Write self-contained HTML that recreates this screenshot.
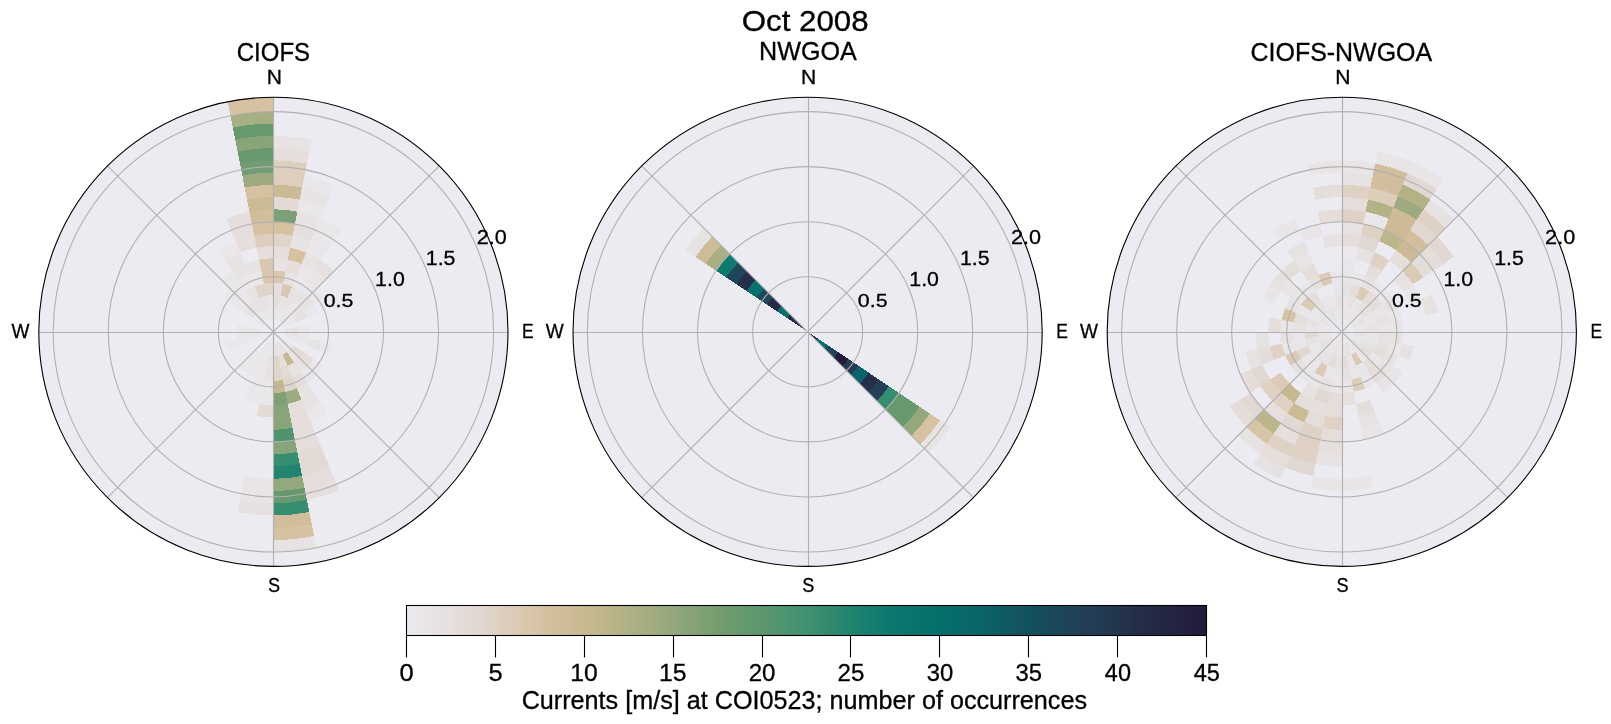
<!DOCTYPE html><html><head><meta charset="utf-8"><style>html,body{margin:0;padding:0;background:#fff;}svg{display:block;}text{font-family:"Liberation Sans",sans-serif;fill:#000;stroke:#000;stroke-width:0.3px;}svg{will-change:transform;}</style></head><body>
<svg width="1611" height="724" viewBox="0 0 1611 724">
<rect width="1611" height="724" fill="#fff"/>
<defs>
<clipPath id="c0"><circle cx="273.4" cy="331.8" r="234.6"/></clipPath>
<clipPath id="c1"><circle cx="807.6" cy="331.8" r="234.6"/></clipPath>
<clipPath id="c2"><circle cx="1341.8" cy="331.8" r="234.6"/></clipPath>
<linearGradient id="cb" x1="0" x2="1" y1="0" y2="0"><stop offset="0.000" stop-color="#ecebf1"/><stop offset="0.090" stop-color="#e2d8d2"/><stop offset="0.174" stop-color="#d6c0a0"/><stop offset="0.235" stop-color="#c4b88c"/><stop offset="0.310" stop-color="#a0ac80"/><stop offset="0.400" stop-color="#6e9b6e"/><stop offset="0.500" stop-color="#419170"/><stop offset="0.562" stop-color="#1e826e"/><stop offset="0.609" stop-color="#0a786e"/><stop offset="0.665" stop-color="#056e69"/><stop offset="0.717" stop-color="#0a6469"/><stop offset="0.779" stop-color="#14505f"/><stop offset="0.857" stop-color="#233c55"/><stop offset="0.919" stop-color="#232d46"/><stop offset="1.000" stop-color="#211b39"/></linearGradient>
</defs>
<circle cx="273.4" cy="331.8" r="234.6" fill="#ecebf1"/>
<g clip-path="url(#c0)" shape-rendering="crispEdges">
<path d="M268.62,307.77A24.50,24.50 0 0 1 273.40,307.30L273.40,319.55A12.25,12.25 0 0 0 271.01,319.79Z" fill="#eae7ea"/>
<path d="M266.23,295.76A36.75,36.75 0 0 1 273.40,295.05L273.40,307.30A24.50,24.50 0 0 0 268.62,307.77Z" fill="#eae7ea"/>
<path d="M263.84,283.74A49.00,49.00 0 0 1 273.40,282.80L273.40,295.05A36.75,36.75 0 0 0 266.23,295.76Z" fill="#e0d5cb"/>
<path d="M261.45,271.73A61.25,61.25 0 0 1 273.40,270.55L273.40,282.80A49.00,49.00 0 0 0 263.84,283.74Z" fill="#dac7af"/>
<path d="M259.06,259.71A73.50,73.50 0 0 1 273.40,258.30L273.40,270.55A61.25,61.25 0 0 0 261.45,271.73Z" fill="#dac7af"/>
<path d="M256.67,247.70A85.75,85.75 0 0 1 273.40,246.05L273.40,258.30A73.50,73.50 0 0 0 259.06,259.71Z" fill="#e5dedc"/>
<path d="M254.28,235.68A98.00,98.00 0 0 1 273.40,233.80L273.40,246.05A85.75,85.75 0 0 0 256.67,247.70Z" fill="#ddcebd"/>
<path d="M251.89,223.67A110.25,110.25 0 0 1 273.40,221.55L273.40,233.80A98.00,98.00 0 0 0 254.28,235.68Z" fill="#d6c1a1"/>
<path d="M249.50,211.65A122.50,122.50 0 0 1 273.40,209.30L273.40,221.55A110.25,110.25 0 0 0 251.89,223.67Z" fill="#d1be9a"/>
<path d="M247.11,199.64A134.75,134.75 0 0 1 273.40,197.05L273.40,209.30A122.50,122.50 0 0 0 249.50,211.65Z" fill="#cbbb94"/>
<path d="M244.72,187.62A147.00,147.00 0 0 1 273.40,184.80L273.40,197.05A134.75,134.75 0 0 0 247.11,199.64Z" fill="#d6c1a1"/>
<path d="M242.33,175.61A159.25,159.25 0 0 1 273.40,172.55L273.40,184.80A147.00,147.00 0 0 0 244.72,187.62Z" fill="#9eab80"/>
<path d="M239.94,163.60A171.50,171.50 0 0 1 273.40,160.30L273.40,172.55A159.25,159.25 0 0 0 242.33,175.61Z" fill="#729d72"/>
<path d="M237.55,151.58A183.75,183.75 0 0 1 273.40,148.05L273.40,160.30A171.50,171.50 0 0 0 239.94,163.60Z" fill="#67996f"/>
<path d="M235.16,139.57A196.00,196.00 0 0 1 273.40,135.80L273.40,148.05A183.75,183.75 0 0 0 237.55,151.58Z" fill="#88a479"/>
<path d="M232.77,127.55A208.25,208.25 0 0 1 273.40,123.55L273.40,135.80A196.00,196.00 0 0 0 235.16,139.57Z" fill="#67996f"/>
<path d="M230.38,115.54A220.50,220.50 0 0 1 273.40,111.30L273.40,123.55A208.25,208.25 0 0 0 232.77,127.55Z" fill="#a8af83"/>
<path d="M227.24,99.75A236.60,236.60 0 0 1 273.40,95.20L273.40,111.30A220.50,220.50 0 0 0 230.38,115.54Z" fill="#d6c1a1"/>
<path d="M227.24,99.75A236.60,236.60 0 0 1 273.40,95.20L273.40,99.05A232.75,232.75 0 0 0 227.99,103.52Z" fill="#d6c1a1"/>
<path d="M273.40,307.30A24.50,24.50 0 0 1 278.18,307.77L275.79,319.79A12.25,12.25 0 0 0 273.40,319.55Z" fill="#eae7ea"/>
<path d="M273.40,295.05A36.75,36.75 0 0 1 280.57,295.76L278.18,307.77A24.50,24.50 0 0 0 273.40,307.30Z" fill="#e5dedc"/>
<path d="M273.40,282.80A49.00,49.00 0 0 1 282.96,283.74L280.57,295.76A36.75,36.75 0 0 0 273.40,295.05Z" fill="#e5dedc"/>
<path d="M273.40,270.55A61.25,61.25 0 0 1 285.35,271.73L282.96,283.74A49.00,49.00 0 0 0 273.40,282.80Z" fill="#dac7af"/>
<path d="M273.40,258.30A73.50,73.50 0 0 1 287.74,259.71L285.35,271.73A61.25,61.25 0 0 0 273.40,270.55Z" fill="#e8e3e3"/>
<path d="M273.40,246.05A85.75,85.75 0 0 1 290.13,247.70L287.74,259.71A73.50,73.50 0 0 0 273.40,258.30Z" fill="#e5dedc"/>
<path d="M273.40,233.80A98.00,98.00 0 0 1 292.52,235.68L290.13,247.70A85.75,85.75 0 0 0 273.40,246.05Z" fill="#e0d5cb"/>
<path d="M273.40,221.55A110.25,110.25 0 0 1 294.91,223.67L292.52,235.68A98.00,98.00 0 0 0 273.40,233.80Z" fill="#d6c1a1"/>
<path d="M273.40,209.30A122.50,122.50 0 0 1 297.30,211.65L294.91,223.67A110.25,110.25 0 0 0 273.40,221.55Z" fill="#7da076"/>
<path d="M273.40,197.05A134.75,134.75 0 0 1 299.69,199.64L297.30,211.65A122.50,122.50 0 0 0 273.40,209.30Z" fill="#e3dad5"/>
<path d="M273.40,184.80A147.00,147.00 0 0 1 302.08,187.62L299.69,199.64A134.75,134.75 0 0 0 273.40,197.05Z" fill="#cbbb94"/>
<path d="M273.40,172.55A159.25,159.25 0 0 1 304.47,175.61L302.08,187.62A147.00,147.00 0 0 0 273.40,184.80Z" fill="#ddcebd"/>
<path d="M273.40,160.30A171.50,171.50 0 0 1 306.86,163.60L304.47,175.61A159.25,159.25 0 0 0 273.40,172.55Z" fill="#ddcebd"/>
<path d="M273.40,148.05A183.75,183.75 0 0 1 309.25,151.58L306.86,163.60A171.50,171.50 0 0 0 273.40,160.30Z" fill="#e5dedc"/>
<path d="M273.40,135.80A196.00,196.00 0 0 1 311.64,139.57L309.25,151.58A183.75,183.75 0 0 0 273.40,148.05Z" fill="#e8e3e3"/>
<path d="M278.18,307.77A24.50,24.50 0 0 1 282.78,309.16L278.09,320.48A12.25,12.25 0 0 0 275.79,319.79Z" fill="#eae7ea"/>
<path d="M280.57,295.76A36.75,36.75 0 0 1 287.46,297.85L282.78,309.16A24.50,24.50 0 0 0 278.18,307.77Z" fill="#e8e3e3"/>
<path d="M282.96,283.74A49.00,49.00 0 0 1 292.15,286.53L287.46,297.85A36.75,36.75 0 0 0 280.57,295.76Z" fill="#dac7af"/>
<path d="M285.35,271.73A61.25,61.25 0 0 1 296.84,275.21L292.15,286.53A49.00,49.00 0 0 0 282.96,283.74Z" fill="#e8e3e3"/>
<path d="M287.74,259.71A73.50,73.50 0 0 1 301.53,263.89L296.84,275.21A61.25,61.25 0 0 0 285.35,271.73Z" fill="#e5dedc"/>
<path d="M290.13,247.70A85.75,85.75 0 0 1 306.22,252.58L301.53,263.89A73.50,73.50 0 0 0 287.74,259.71Z" fill="#d6c1a1"/>
<path d="M292.52,235.68A98.00,98.00 0 0 1 310.90,241.26L306.22,252.58A85.75,85.75 0 0 0 290.13,247.70Z" fill="#e8e3e3"/>
<path d="M294.91,223.67A110.25,110.25 0 0 1 315.59,229.94L310.90,241.26A98.00,98.00 0 0 0 292.52,235.68Z" fill="#e5dedc"/>
<path d="M297.30,211.65A122.50,122.50 0 0 1 320.28,218.62L315.59,229.94A110.25,110.25 0 0 0 294.91,223.67Z" fill="#e8e3e3"/>
<path d="M299.69,199.64A134.75,134.75 0 0 1 324.97,207.31L320.28,218.62A122.50,122.50 0 0 0 297.30,211.65Z" fill="#eae7ea"/>
<path d="M302.08,187.62A147.00,147.00 0 0 1 329.65,195.99L324.97,207.31A134.75,134.75 0 0 0 299.69,199.64Z" fill="#e8e3e3"/>
<path d="M304.47,175.61A159.25,159.25 0 0 1 334.34,184.67L329.65,195.99A147.00,147.00 0 0 0 302.08,187.62Z" fill="#eae7ea"/>
<path d="M282.78,309.16A24.50,24.50 0 0 1 287.01,311.43L280.21,321.61A12.25,12.25 0 0 0 278.09,320.48Z" fill="#eae7ea"/>
<path d="M287.46,297.85A36.75,36.75 0 0 1 293.82,301.24L287.01,311.43A24.50,24.50 0 0 0 282.78,309.16Z" fill="#e8e3e3"/>
<path d="M292.15,286.53A49.00,49.00 0 0 1 300.62,291.06L293.82,301.24A36.75,36.75 0 0 0 287.46,297.85Z" fill="#e8e3e3"/>
<path d="M296.84,275.21A61.25,61.25 0 0 1 307.43,280.87L300.62,291.06A49.00,49.00 0 0 0 292.15,286.53Z" fill="#eae7ea"/>
<path d="M301.53,263.89A73.50,73.50 0 0 1 314.23,270.69L307.43,280.87A61.25,61.25 0 0 0 296.84,275.21Z" fill="#eae7ea"/>
<path d="M306.22,252.58A85.75,85.75 0 0 1 321.04,260.50L314.23,270.69A73.50,73.50 0 0 0 301.53,263.89Z" fill="#e8e3e3"/>
<path d="M310.90,241.26A98.00,98.00 0 0 1 327.85,250.32L321.04,260.50A85.75,85.75 0 0 0 306.22,252.58Z" fill="#eae7ea"/>
<path d="M315.59,229.94A110.25,110.25 0 0 1 334.65,240.13L327.85,250.32A98.00,98.00 0 0 0 310.90,241.26Z" fill="#eae7ea"/>
<path d="M320.28,218.62A122.50,122.50 0 0 1 341.46,229.94L334.65,240.13A110.25,110.25 0 0 0 315.59,229.94Z" fill="#eae7ea"/>
<path d="M264.02,309.16A24.50,24.50 0 0 1 268.62,307.77L271.01,319.79A12.25,12.25 0 0 0 268.71,320.48Z" fill="#eae7ea"/>
<path d="M259.34,297.85A36.75,36.75 0 0 1 266.23,295.76L268.62,307.77A24.50,24.50 0 0 0 264.02,309.16Z" fill="#e8e3e3"/>
<path d="M254.65,286.53A49.00,49.00 0 0 1 263.84,283.74L266.23,295.76A36.75,36.75 0 0 0 259.34,297.85Z" fill="#e0d5cb"/>
<path d="M249.96,275.21A61.25,61.25 0 0 1 261.45,271.73L263.84,283.74A49.00,49.00 0 0 0 254.65,286.53Z" fill="#eae7ea"/>
<path d="M245.27,263.89A73.50,73.50 0 0 1 259.06,259.71L261.45,271.73A61.25,61.25 0 0 0 249.96,275.21Z" fill="#e8e3e3"/>
<path d="M235.90,241.26A98.00,98.00 0 0 1 254.28,235.68L256.67,247.70A85.75,85.75 0 0 0 240.58,252.58Z" fill="#e5dedc"/>
<path d="M231.21,229.94A110.25,110.25 0 0 1 251.89,223.67L254.28,235.68A98.00,98.00 0 0 0 235.90,241.26Z" fill="#e5dedc"/>
<path d="M226.52,218.62A122.50,122.50 0 0 1 249.50,211.65L251.89,223.67A110.25,110.25 0 0 0 231.21,229.94Z" fill="#e5dedc"/>
<path d="M259.79,311.43A24.50,24.50 0 0 1 264.02,309.16L268.71,320.48A12.25,12.25 0 0 0 266.59,321.61Z" fill="#eae7ea"/>
<path d="M252.98,301.24A36.75,36.75 0 0 1 259.34,297.85L264.02,309.16A24.50,24.50 0 0 0 259.79,311.43Z" fill="#e8e3e3"/>
<path d="M246.18,291.06A49.00,49.00 0 0 1 254.65,286.53L259.34,297.85A36.75,36.75 0 0 0 252.98,301.24Z" fill="#e8e3e3"/>
<path d="M239.37,280.87A61.25,61.25 0 0 1 249.96,275.21L254.65,286.53A49.00,49.00 0 0 0 246.18,291.06Z" fill="#eae7ea"/>
<path d="M232.57,270.69A73.50,73.50 0 0 1 245.27,263.89L249.96,275.21A61.25,61.25 0 0 0 239.37,280.87Z" fill="#e8e3e3"/>
<path d="M225.76,260.50A85.75,85.75 0 0 1 240.58,252.58L245.27,263.89A73.50,73.50 0 0 0 232.57,270.69Z" fill="#e8e3e3"/>
<path d="M218.95,250.32A98.00,98.00 0 0 1 235.90,241.26L240.58,252.58A85.75,85.75 0 0 0 225.76,260.50Z" fill="#eae7ea"/>
<path d="M256.08,314.48A24.50,24.50 0 0 1 259.79,311.43L266.59,321.61A12.25,12.25 0 0 0 264.74,323.14Z" fill="#eae7ea"/>
<path d="M247.41,305.81A36.75,36.75 0 0 1 252.98,301.24L259.79,311.43A24.50,24.50 0 0 0 256.08,314.48Z" fill="#e8e3e3"/>
<path d="M238.75,297.15A49.00,49.00 0 0 1 246.18,291.06L252.98,301.24A36.75,36.75 0 0 0 247.41,305.81Z" fill="#eae7ea"/>
<path d="M230.09,288.49A61.25,61.25 0 0 1 239.37,280.87L246.18,291.06A49.00,49.00 0 0 0 238.75,297.15Z" fill="#eae7ea"/>
<path d="M221.43,279.83A73.50,73.50 0 0 1 232.57,270.69L239.37,280.87A61.25,61.25 0 0 0 230.09,288.49Z" fill="#eae7ea"/>
<path d="M253.03,318.19A24.50,24.50 0 0 1 256.08,314.48L264.74,323.14A12.25,12.25 0 0 0 263.21,324.99Z" fill="#eae7ea"/>
<path d="M242.84,311.38A36.75,36.75 0 0 1 247.41,305.81L256.08,314.48A24.50,24.50 0 0 0 253.03,318.19Z" fill="#e8e3e3"/>
<path d="M232.66,304.58A49.00,49.00 0 0 1 238.75,297.15L247.41,305.81A36.75,36.75 0 0 0 242.84,311.38Z" fill="#eae7ea"/>
<path d="M222.47,297.77A61.25,61.25 0 0 1 230.09,288.49L238.75,297.15A49.00,49.00 0 0 0 232.66,304.58Z" fill="#eae7ea"/>
<path d="M273.40,331.80L275.79,343.81A12.25,12.25 0 0 1 273.40,344.05Z" fill="#eae7ea"/>
<path d="M278.18,355.83A24.50,24.50 0 0 1 273.40,356.30L273.40,344.05A12.25,12.25 0 0 0 275.79,343.81Z" fill="#e8e3e3"/>
<path d="M280.57,367.84A36.75,36.75 0 0 1 273.40,368.55L273.40,356.30A24.50,24.50 0 0 0 278.18,355.83Z" fill="#e0d5cb"/>
<path d="M282.96,379.86A49.00,49.00 0 0 1 273.40,380.80L273.40,368.55A36.75,36.75 0 0 0 280.57,367.84Z" fill="#e0d5cb"/>
<path d="M285.35,391.87A61.25,61.25 0 0 1 273.40,393.05L273.40,380.80A49.00,49.00 0 0 0 282.96,379.86Z" fill="#c5b98e"/>
<path d="M287.74,403.89A73.50,73.50 0 0 1 273.40,405.30L273.40,393.05A61.25,61.25 0 0 0 285.35,391.87Z" fill="#7da076"/>
<path d="M290.13,415.90A85.75,85.75 0 0 1 273.40,417.55L273.40,405.30A73.50,73.50 0 0 0 287.74,403.89Z" fill="#88a479"/>
<path d="M292.52,427.92A98.00,98.00 0 0 1 273.40,429.80L273.40,417.55A85.75,85.75 0 0 0 290.13,415.90Z" fill="#88a479"/>
<path d="M294.91,439.93A110.25,110.25 0 0 1 273.40,442.05L273.40,429.80A98.00,98.00 0 0 0 292.52,427.92Z" fill="#4f936f"/>
<path d="M297.30,451.95A122.50,122.50 0 0 1 273.40,454.30L273.40,442.05A110.25,110.25 0 0 0 294.91,439.93Z" fill="#88a479"/>
<path d="M299.69,463.96A134.75,134.75 0 0 1 273.40,466.55L273.40,454.30A122.50,122.50 0 0 0 297.30,451.95Z" fill="#368e70"/>
<path d="M302.08,475.98A147.00,147.00 0 0 1 273.40,478.80L273.40,466.55A134.75,134.75 0 0 0 299.69,463.96Z" fill="#218570"/>
<path d="M304.47,487.99A159.25,159.25 0 0 1 273.40,491.05L273.40,478.80A147.00,147.00 0 0 0 302.08,475.98Z" fill="#93a87c"/>
<path d="M306.86,500.00A171.50,171.50 0 0 1 273.40,503.30L273.40,491.05A159.25,159.25 0 0 0 304.47,487.99Z" fill="#67996f"/>
<path d="M309.25,512.02A183.75,183.75 0 0 1 273.40,515.55L273.40,503.30A171.50,171.50 0 0 0 306.86,500.00Z" fill="#368e70"/>
<path d="M311.64,524.03A196.00,196.00 0 0 1 273.40,527.80L273.40,515.55A183.75,183.75 0 0 0 309.25,512.02Z" fill="#d1be9a"/>
<path d="M314.03,536.05A208.25,208.25 0 0 1 273.40,540.05L273.40,527.80A196.00,196.00 0 0 0 311.64,524.03Z" fill="#d6c1a1"/>
<path d="M316.42,548.06A220.50,220.50 0 0 1 273.40,552.30L273.40,540.05A208.25,208.25 0 0 0 314.03,536.05Z" fill="#e8e3e3"/>
<path d="M273.40,331.80L273.40,344.05A12.25,12.25 0 0 1 271.01,343.81Z" fill="#eae7ea"/>
<path d="M273.40,356.30A24.50,24.50 0 0 1 268.62,355.83L271.01,343.81A12.25,12.25 0 0 0 273.40,344.05Z" fill="#eae7ea"/>
<path d="M273.40,368.55A36.75,36.75 0 0 1 266.23,367.84L268.62,355.83A24.50,24.50 0 0 0 273.40,356.30Z" fill="#e8e3e3"/>
<path d="M273.40,380.80A49.00,49.00 0 0 1 263.84,379.86L266.23,367.84A36.75,36.75 0 0 0 273.40,368.55Z" fill="#e8e3e3"/>
<path d="M273.40,393.05A61.25,61.25 0 0 1 261.45,391.87L263.84,379.86A49.00,49.00 0 0 0 273.40,380.80Z" fill="#eae7ea"/>
<path d="M273.40,405.30A73.50,73.50 0 0 1 259.06,403.89L261.45,391.87A61.25,61.25 0 0 0 273.40,393.05Z" fill="#eae7ea"/>
<path d="M273.40,417.55A85.75,85.75 0 0 1 256.67,415.90L259.06,403.89A73.50,73.50 0 0 0 273.40,405.30Z" fill="#e3dad5"/>
<path d="M273.40,491.05A159.25,159.25 0 0 1 242.33,487.99L244.72,475.98A147.00,147.00 0 0 0 273.40,478.80Z" fill="#e9e5e7"/>
<path d="M273.40,503.30A171.50,171.50 0 0 1 239.94,500.00L242.33,487.99A159.25,159.25 0 0 0 273.40,491.05Z" fill="#e9e5e7"/>
<path d="M273.40,515.55A183.75,183.75 0 0 1 237.55,512.02L239.94,500.00A171.50,171.50 0 0 0 273.40,503.30Z" fill="#e6e0e0"/>
<path d="M268.62,355.83A24.50,24.50 0 0 1 264.02,354.44L268.71,343.12A12.25,12.25 0 0 0 271.01,343.81Z" fill="#eae7ea"/>
<path d="M266.23,367.84A36.75,36.75 0 0 1 259.34,365.75L264.02,354.44A24.50,24.50 0 0 0 268.62,355.83Z" fill="#eae7ea"/>
<path d="M263.84,379.86A49.00,49.00 0 0 1 254.65,377.07L259.34,365.75A36.75,36.75 0 0 0 266.23,367.84Z" fill="#eae7ea"/>
<path d="M261.45,391.87A61.25,61.25 0 0 1 249.96,388.39L254.65,377.07A49.00,49.00 0 0 0 263.84,379.86Z" fill="#eae7ea"/>
<path d="M259.06,403.89A73.50,73.50 0 0 1 245.27,399.71L249.96,388.39A61.25,61.25 0 0 0 261.45,391.87Z" fill="#eae7ea"/>
<path d="M282.78,354.44A24.50,24.50 0 0 1 278.18,355.83L275.79,343.81A12.25,12.25 0 0 0 278.09,343.12Z" fill="#e8e3e3"/>
<path d="M287.46,365.75A36.75,36.75 0 0 1 280.57,367.84L278.18,355.83A24.50,24.50 0 0 0 282.78,354.44Z" fill="#e5dedc"/>
<path d="M292.15,377.07A49.00,49.00 0 0 1 282.96,379.86L280.57,367.84A36.75,36.75 0 0 0 287.46,365.75Z" fill="#e3dad5"/>
<path d="M296.84,388.39A61.25,61.25 0 0 1 285.35,391.87L282.96,379.86A49.00,49.00 0 0 0 292.15,377.07Z" fill="#e0d5cb"/>
<path d="M301.53,399.71A73.50,73.50 0 0 1 287.74,403.89L285.35,391.87A61.25,61.25 0 0 0 296.84,388.39Z" fill="#9eab80"/>
<path d="M306.22,411.02A85.75,85.75 0 0 1 290.13,415.90L287.74,403.89A73.50,73.50 0 0 0 301.53,399.71Z" fill="#e5dedc"/>
<path d="M310.90,422.34A98.00,98.00 0 0 1 292.52,427.92L290.13,415.90A85.75,85.75 0 0 0 306.22,411.02Z" fill="#e5dedc"/>
<path d="M315.59,433.66A110.25,110.25 0 0 1 294.91,439.93L292.52,427.92A98.00,98.00 0 0 0 310.90,422.34Z" fill="#e5dedc"/>
<path d="M320.28,444.98A122.50,122.50 0 0 1 297.30,451.95L294.91,439.93A110.25,110.25 0 0 0 315.59,433.66Z" fill="#e5dedc"/>
<path d="M324.97,456.29A134.75,134.75 0 0 1 299.69,463.96L297.30,451.95A122.50,122.50 0 0 0 320.28,444.98Z" fill="#e3dad5"/>
<path d="M329.65,467.61A147.00,147.00 0 0 1 302.08,475.98L299.69,463.96A134.75,134.75 0 0 0 324.97,456.29Z" fill="#e3dad5"/>
<path d="M334.34,478.93A159.25,159.25 0 0 1 304.47,487.99L302.08,475.98A147.00,147.00 0 0 0 329.65,467.61Z" fill="#e5dedc"/>
<path d="M339.03,490.25A171.50,171.50 0 0 1 306.86,500.00L304.47,487.99A159.25,159.25 0 0 0 334.34,478.93Z" fill="#e5dedc"/>
<path d="M287.01,352.17A24.50,24.50 0 0 1 282.78,354.44L278.09,343.12A12.25,12.25 0 0 0 280.21,341.99Z" fill="#e8e3e3"/>
<path d="M293.82,362.36A36.75,36.75 0 0 1 287.46,365.75L282.78,354.44A24.50,24.50 0 0 0 287.01,352.17Z" fill="#c5b98e"/>
<path d="M300.62,372.54A49.00,49.00 0 0 1 292.15,377.07L287.46,365.75A36.75,36.75 0 0 0 293.82,362.36Z" fill="#e8e3e3"/>
<path d="M307.43,382.73A61.25,61.25 0 0 1 296.84,388.39L292.15,377.07A49.00,49.00 0 0 0 300.62,372.54Z" fill="#e5dedc"/>
<path d="M314.23,392.91A73.50,73.50 0 0 1 301.53,399.71L296.84,388.39A61.25,61.25 0 0 0 307.43,382.73Z" fill="#e8e3e3"/>
<path d="M321.04,403.10A85.75,85.75 0 0 1 306.22,411.02L301.53,399.71A73.50,73.50 0 0 0 314.23,392.91Z" fill="#e8e3e3"/>
<path d="M327.85,413.28A98.00,98.00 0 0 1 310.90,422.34L306.22,411.02A85.75,85.75 0 0 0 321.04,403.10Z" fill="#eae7ea"/>
<path d="M293.77,345.41A24.50,24.50 0 0 1 290.72,349.12L282.06,340.46A12.25,12.25 0 0 0 283.59,338.61Z" fill="#eae7ea"/>
<path d="M303.96,352.22A36.75,36.75 0 0 1 299.39,357.79L290.72,349.12A24.50,24.50 0 0 0 293.77,345.41Z" fill="#e3dad5"/>
<path d="M314.14,359.02A49.00,49.00 0 0 1 308.05,366.45L299.39,357.79A36.75,36.75 0 0 0 303.96,352.22Z" fill="#e5dedc"/>
<path d="M324.33,365.83A61.25,61.25 0 0 1 316.71,375.11L308.05,366.45A49.00,49.00 0 0 0 314.14,359.02Z" fill="#eae7ea"/>
<path d="M290.72,349.12A24.50,24.50 0 0 1 287.01,352.17L280.21,341.99A12.25,12.25 0 0 0 282.06,340.46Z" fill="#eae7ea"/>
<path d="M299.39,357.79A36.75,36.75 0 0 1 293.82,362.36L287.01,352.17A24.50,24.50 0 0 0 290.72,349.12Z" fill="#e8e3e3"/>
<path d="M308.05,366.45A49.00,49.00 0 0 1 300.62,372.54L293.82,362.36A36.75,36.75 0 0 0 299.39,357.79Z" fill="#e8e3e3"/>
<path d="M316.71,375.11A61.25,61.25 0 0 1 307.43,382.73L300.62,372.54A49.00,49.00 0 0 0 308.05,366.45Z" fill="#eae7ea"/>
<path d="M297.43,336.58A24.50,24.50 0 0 1 296.04,341.18L284.72,336.49A12.25,12.25 0 0 0 285.41,334.19Z" fill="#eae7ea"/>
<path d="M309.44,338.97A36.75,36.75 0 0 1 307.35,345.86L296.04,341.18A24.50,24.50 0 0 0 297.43,336.58Z" fill="#eae7ea"/>
<path d="M321.46,341.36A49.00,49.00 0 0 1 318.67,350.55L307.35,345.86A36.75,36.75 0 0 0 309.44,338.97Z" fill="#e8e3e3"/>
<path d="M333.47,343.75A61.25,61.25 0 0 1 329.99,355.24L318.67,350.55A49.00,49.00 0 0 0 321.46,341.36Z" fill="#eae7ea"/>
<path d="M297.90,331.80A24.50,24.50 0 0 1 297.43,336.58L285.41,334.19A12.25,12.25 0 0 0 285.65,331.80Z" fill="#e8e3e3"/>
<path d="M310.15,331.80A36.75,36.75 0 0 1 309.44,338.97L297.43,336.58A24.50,24.50 0 0 0 297.90,331.80Z" fill="#eae7ea"/>
<path d="M297.43,327.02A24.50,24.50 0 0 1 297.90,331.80L285.65,331.80A12.25,12.25 0 0 0 285.41,329.41Z" fill="#e6e0e0"/>
<path d="M309.44,324.63A36.75,36.75 0 0 1 310.15,331.80L297.90,331.80A24.50,24.50 0 0 0 297.43,327.02Z" fill="#eae7ea"/>
<path d="M290.72,314.48A24.50,24.50 0 0 1 293.77,318.19L283.59,324.99A12.25,12.25 0 0 0 282.06,323.14Z" fill="#eae7ea"/>
<path d="M299.39,305.81A36.75,36.75 0 0 1 303.96,311.38L293.77,318.19A24.50,24.50 0 0 0 290.72,314.48Z" fill="#e8e3e3"/>
<path d="M308.05,297.15A49.00,49.00 0 0 1 314.14,304.58L303.96,311.38A36.75,36.75 0 0 0 299.39,305.81Z" fill="#e8e3e3"/>
<path d="M316.71,288.49A61.25,61.25 0 0 1 324.33,297.77L314.14,304.58A49.00,49.00 0 0 0 308.05,297.15Z" fill="#eae7ea"/>
<path d="M293.77,318.19A24.50,24.50 0 0 1 296.04,322.42L284.72,327.11A12.25,12.25 0 0 0 283.59,324.99Z" fill="#eae7ea"/>
<path d="M303.96,311.38A36.75,36.75 0 0 1 307.35,317.74L296.04,322.42A24.50,24.50 0 0 0 293.77,318.19Z" fill="#e6e0e0"/>
<path d="M314.14,304.58A49.00,49.00 0 0 1 318.67,313.05L307.35,317.74A36.75,36.75 0 0 0 303.96,311.38Z" fill="#eae7ea"/>
<path d="M287.01,311.43A24.50,24.50 0 0 1 290.72,314.48L282.06,323.14A12.25,12.25 0 0 0 280.21,321.61Z" fill="#eae7ea"/>
<path d="M293.82,301.24A36.75,36.75 0 0 1 299.39,305.81L290.72,314.48A24.50,24.50 0 0 0 287.01,311.43Z" fill="#eae7ea"/>
<path d="M300.62,291.06A49.00,49.00 0 0 1 308.05,297.15L299.39,305.81A36.75,36.75 0 0 0 293.82,301.24Z" fill="#e8e3e3"/>
<path d="M307.43,280.87A61.25,61.25 0 0 1 316.71,288.49L308.05,297.15A49.00,49.00 0 0 0 300.62,291.06Z" fill="#eae7ea"/>
<path d="M314.23,270.69A73.50,73.50 0 0 1 325.37,279.83L316.71,288.49A61.25,61.25 0 0 0 307.43,280.87Z" fill="#e9e5e7"/>
<path d="M321.04,260.50A85.75,85.75 0 0 1 334.03,271.17L325.37,279.83A73.50,73.50 0 0 0 314.23,270.69Z" fill="#e6e0e0"/>
<path d="M248.90,331.80A24.50,24.50 0 0 1 249.37,327.02L261.39,329.41A12.25,12.25 0 0 0 261.15,331.80Z" fill="#eae7ea"/>
<path d="M236.65,331.80A36.75,36.75 0 0 1 237.36,324.63L249.37,327.02A24.50,24.50 0 0 0 248.90,331.80Z" fill="#eae7ea"/>
<path d="M250.76,341.18A24.50,24.50 0 0 1 249.37,336.58L261.39,334.19A12.25,12.25 0 0 0 262.08,336.49Z" fill="#eae7ea"/>
<path d="M239.45,345.86A36.75,36.75 0 0 1 237.36,338.97L249.37,336.58A24.50,24.50 0 0 0 250.76,341.18Z" fill="#eae7ea"/>
<path d="M228.13,350.55A49.00,49.00 0 0 1 225.34,341.36L237.36,338.97A36.75,36.75 0 0 0 239.45,345.86Z" fill="#eae7ea"/>
<path d="M249.37,336.58A24.50,24.50 0 0 1 248.90,331.80L261.15,331.80A12.25,12.25 0 0 0 261.39,334.19Z" fill="#eae7ea"/>
<path d="M237.36,338.97A36.75,36.75 0 0 1 236.65,331.80L248.90,331.80A24.50,24.50 0 0 0 249.37,336.58Z" fill="#eae7ea"/>
<path d="M264.02,354.44A24.50,24.50 0 0 1 259.79,352.17L266.59,341.99A12.25,12.25 0 0 0 268.71,343.12Z" fill="#eae7ea"/>
<path d="M259.34,365.75A36.75,36.75 0 0 1 252.98,362.36L259.79,352.17A24.50,24.50 0 0 0 264.02,354.44Z" fill="#eae7ea"/>
<path d="M254.65,377.07A49.00,49.00 0 0 1 246.18,372.54L252.98,362.36A36.75,36.75 0 0 0 259.34,365.75Z" fill="#eae7ea"/>
<path d="M252.98,362.36A36.75,36.75 0 0 1 247.41,357.79L256.08,349.12A24.50,24.50 0 0 0 259.79,352.17Z" fill="#eae7ea"/>
<path d="M246.18,372.54A49.00,49.00 0 0 1 238.75,366.45L247.41,357.79A36.75,36.75 0 0 0 252.98,362.36Z" fill="#eae7ea"/>
</g>
<g stroke="#b0b0b0" stroke-width="1.1"><circle cx="273.4" cy="331.8" r="55.05" fill="none"/><circle cx="273.4" cy="331.8" r="110.10" fill="none"/><circle cx="273.4" cy="331.8" r="165.15" fill="none"/><circle cx="273.4" cy="331.8" r="220.20" fill="none"/><line x1="273.5" y1="331.8" x2="273.5" y2="97.20"/><line x1="273.4" y1="331.8" x2="439.29" y2="165.91"/><line x1="273.4" y1="332.5" x2="508.00" y2="332.5"/><line x1="273.4" y1="331.8" x2="439.29" y2="497.69"/><line x1="273.5" y1="331.8" x2="273.5" y2="566.40"/><line x1="273.4" y1="331.8" x2="107.51" y2="497.69"/><line x1="273.4" y1="332.5" x2="38.80" y2="332.5"/><line x1="273.4" y1="331.8" x2="107.51" y2="165.91"/></g>
<circle cx="273.4" cy="331.8" r="234.6" fill="none" stroke="#000" stroke-width="1.1"/>
<circle cx="807.6" cy="331.8" r="234.6" fill="#ecebf1"/>
<g clip-path="url(#c1)" shape-rendering="crispEdges">
<path d="M807.60,331.80L797.41,324.99A12.25,12.25 0 0 1 798.94,323.14Z" fill="#25354e"/>
<path d="M787.23,318.19A24.50,24.50 0 0 1 790.28,314.48L798.94,323.14A12.25,12.25 0 0 0 797.41,324.99Z" fill="#262a46"/>
<path d="M777.04,311.38A36.75,36.75 0 0 1 781.61,305.81L790.28,314.48A24.50,24.50 0 0 0 787.23,318.19Z" fill="#07716d"/>
<path d="M766.86,304.58A49.00,49.00 0 0 1 772.95,297.15L781.61,305.81A36.75,36.75 0 0 0 777.04,311.38Z" fill="#262a46"/>
<path d="M756.67,297.77A61.25,61.25 0 0 1 764.29,288.49L772.95,297.15A49.00,49.00 0 0 0 766.86,304.58Z" fill="#21465b"/>
<path d="M746.49,290.97A73.50,73.50 0 0 1 755.63,279.83L764.29,288.49A61.25,61.25 0 0 0 756.67,297.77Z" fill="#07716d"/>
<path d="M736.30,284.16A85.75,85.75 0 0 1 746.97,271.17L755.63,279.83A73.50,73.50 0 0 0 746.49,290.97Z" fill="#262f4a"/>
<path d="M726.12,277.35A98.00,98.00 0 0 1 738.30,262.50L746.97,271.17A85.75,85.75 0 0 0 736.30,284.16Z" fill="#21465b"/>
<path d="M715.93,270.55A110.25,110.25 0 0 1 729.64,253.84L738.30,262.50A98.00,98.00 0 0 0 726.12,277.35Z" fill="#0f7a70"/>
<path d="M705.74,263.74A122.50,122.50 0 0 1 720.98,245.18L729.64,253.84A110.25,110.25 0 0 0 715.93,270.55Z" fill="#a8af83"/>
<path d="M695.56,256.94A134.75,134.75 0 0 1 712.32,236.52L720.98,245.18A122.50,122.50 0 0 0 705.74,263.74Z" fill="#cebc97"/>
<path d="M685.37,250.13A147.00,147.00 0 0 1 703.66,227.86L712.32,236.52A134.75,134.75 0 0 0 695.56,256.94Z" fill="#e8e3e3"/>
<path d="M807.60,331.80L817.79,338.61A12.25,12.25 0 0 1 816.26,340.46Z" fill="#262a46"/>
<path d="M827.97,345.41A24.50,24.50 0 0 1 824.92,349.12L816.26,340.46A12.25,12.25 0 0 0 817.79,338.61Z" fill="#07716d"/>
<path d="M838.16,352.22A36.75,36.75 0 0 1 833.59,357.79L824.92,349.12A24.50,24.50 0 0 0 827.97,345.41Z" fill="#21465b"/>
<path d="M848.34,359.02A49.00,49.00 0 0 1 842.25,366.45L833.59,357.79A36.75,36.75 0 0 0 838.16,352.22Z" fill="#231b39"/>
<path d="M858.53,365.83A61.25,61.25 0 0 1 850.91,375.11L842.25,366.45A49.00,49.00 0 0 0 848.34,359.02Z" fill="#243b53"/>
<path d="M868.71,372.63A73.50,73.50 0 0 1 859.57,383.77L850.91,375.11A61.25,61.25 0 0 0 858.53,365.83Z" fill="#09656b"/>
<path d="M878.90,379.44A85.75,85.75 0 0 1 868.23,392.43L859.57,383.77A73.50,73.50 0 0 0 868.71,372.63Z" fill="#262f4a"/>
<path d="M889.08,386.25A98.00,98.00 0 0 1 876.90,401.10L868.23,392.43A85.75,85.75 0 0 0 878.90,379.44Z" fill="#234057"/>
<path d="M899.27,393.05A110.25,110.25 0 0 1 885.56,409.76L876.90,401.10A98.00,98.00 0 0 0 889.08,386.25Z" fill="#368e70"/>
<path d="M909.46,399.86A122.50,122.50 0 0 1 894.22,418.42L885.56,409.76A110.25,110.25 0 0 0 899.27,393.05Z" fill="#67996f"/>
<path d="M919.64,406.66A134.75,134.75 0 0 1 902.88,427.08L894.22,418.42A122.50,122.50 0 0 0 909.46,399.86Z" fill="#67996f"/>
<path d="M929.83,413.47A147.00,147.00 0 0 1 911.54,435.74L902.88,427.08A134.75,134.75 0 0 0 919.64,406.66Z" fill="#93a87c"/>
<path d="M940.01,420.27A159.25,159.25 0 0 1 920.21,444.41L911.54,435.74A147.00,147.00 0 0 0 929.83,413.47Z" fill="#d6c1a1"/>
<path d="M950.20,427.08A171.50,171.50 0 0 1 928.87,453.07L920.21,444.41A159.25,159.25 0 0 0 940.01,420.27Z" fill="#e8e3e3"/>
</g>
<g stroke="#b0b0b0" stroke-width="1.1"><circle cx="807.6" cy="331.8" r="55.05" fill="none"/><circle cx="807.6" cy="331.8" r="110.10" fill="none"/><circle cx="807.6" cy="331.8" r="165.15" fill="none"/><circle cx="807.6" cy="331.8" r="220.20" fill="none"/><line x1="808.5" y1="331.8" x2="808.5" y2="97.20"/><line x1="807.6" y1="331.8" x2="973.49" y2="165.91"/><line x1="807.6" y1="332.5" x2="1042.20" y2="332.5"/><line x1="807.6" y1="331.8" x2="973.49" y2="497.69"/><line x1="808.5" y1="331.8" x2="808.5" y2="566.40"/><line x1="807.6" y1="331.8" x2="641.71" y2="497.69"/><line x1="807.6" y1="332.5" x2="573.00" y2="332.5"/><line x1="807.6" y1="331.8" x2="641.71" y2="165.91"/></g>
<circle cx="807.6" cy="331.8" r="234.6" fill="none" stroke="#000" stroke-width="1.1"/>
<circle cx="1341.8" cy="331.8" r="234.6" fill="#ecebf1"/>
<g clip-path="url(#c2)" shape-rendering="crispEdges">
<path d="M1341.80,258.30A73.50,73.50 0 0 1 1356.14,259.71L1353.75,271.73A61.25,61.25 0 0 0 1341.80,270.55Z" fill="#eae7ea"/>
<path d="M1341.80,246.05A85.75,85.75 0 0 1 1358.53,247.70L1356.14,259.71A73.50,73.50 0 0 0 1341.80,258.30Z" fill="#ebe9ee"/>
<path d="M1341.80,233.80A98.00,98.00 0 0 1 1360.92,235.68L1358.53,247.70A85.75,85.75 0 0 0 1341.80,246.05Z" fill="#e5ddda"/>
<path d="M1341.80,221.55A110.25,110.25 0 0 1 1363.31,223.67L1360.92,235.68A98.00,98.00 0 0 0 1341.80,233.80Z" fill="#e7e2e2"/>
<path d="M1341.80,209.30A122.50,122.50 0 0 1 1365.70,211.65L1363.31,223.67A110.25,110.25 0 0 0 1341.80,221.55Z" fill="#dfd1c4"/>
<path d="M1341.80,197.05A134.75,134.75 0 0 1 1368.09,199.64L1365.70,211.65A122.50,122.50 0 0 0 1341.80,209.30Z" fill="#e5ddda"/>
<path d="M1341.80,184.80A147.00,147.00 0 0 1 1370.48,187.62L1368.09,199.64A134.75,134.75 0 0 0 1341.80,197.05Z" fill="#dfd1c4"/>
<path d="M1341.80,172.55A159.25,159.25 0 0 1 1372.87,175.61L1370.48,187.62A147.00,147.00 0 0 0 1341.80,184.80Z" fill="#e7e2e2"/>
<path d="M1341.80,160.30A171.50,171.50 0 0 1 1375.26,163.60L1372.87,175.61A159.25,159.25 0 0 0 1341.80,172.55Z" fill="#e9e5e7"/>
<path d="M1341.80,307.30A24.50,24.50 0 0 1 1346.58,307.77L1344.19,319.79A12.25,12.25 0 0 0 1341.80,319.55Z" fill="#e9e6e9"/>
<path d="M1341.80,295.05A36.75,36.75 0 0 1 1348.97,295.76L1346.58,307.77A24.50,24.50 0 0 0 1341.80,307.30Z" fill="#e9e6e9"/>
<path d="M1341.80,282.80A49.00,49.00 0 0 1 1351.36,283.74L1348.97,295.76A36.75,36.75 0 0 0 1341.80,295.05Z" fill="#e7e2e2"/>
<path d="M1341.80,270.55A61.25,61.25 0 0 1 1353.75,271.73L1351.36,283.74A49.00,49.00 0 0 0 1341.80,282.80Z" fill="#e9e6e9"/>
<path d="M1341.80,331.80L1341.80,319.55A12.25,12.25 0 0 1 1344.19,319.79Z" fill="#ebe8ed"/>
<path d="M1351.36,283.74A49.00,49.00 0 0 1 1360.55,286.53L1355.86,297.85A36.75,36.75 0 0 0 1348.97,295.76Z" fill="#e5ddda"/>
<path d="M1358.53,247.70A85.75,85.75 0 0 1 1374.62,252.58L1369.93,263.89A73.50,73.50 0 0 0 1356.14,259.71Z" fill="#e7e2e2"/>
<path d="M1360.92,235.68A98.00,98.00 0 0 1 1379.30,241.26L1374.62,252.58A85.75,85.75 0 0 0 1358.53,247.70Z" fill="#e2d8d3"/>
<path d="M1363.31,223.67A110.25,110.25 0 0 1 1383.99,229.94L1379.30,241.26A98.00,98.00 0 0 0 1360.92,235.68Z" fill="#dfd1c4"/>
<path d="M1365.70,211.65A122.50,122.50 0 0 1 1388.68,218.62L1383.99,229.94A110.25,110.25 0 0 0 1363.31,223.67Z" fill="#eae7ea"/>
<path d="M1368.09,199.64A134.75,134.75 0 0 1 1393.37,207.31L1388.68,218.62A122.50,122.50 0 0 0 1365.70,211.65Z" fill="#b3b286"/>
<path d="M1370.48,187.62A147.00,147.00 0 0 1 1398.05,195.99L1393.37,207.31A134.75,134.75 0 0 0 1368.09,199.64Z" fill="#ddcebc"/>
<path d="M1372.87,175.61A159.25,159.25 0 0 1 1402.74,184.67L1398.05,195.99A147.00,147.00 0 0 0 1370.48,187.62Z" fill="#d2be9c"/>
<path d="M1375.26,163.60A171.50,171.50 0 0 1 1407.43,173.35L1402.74,184.67A159.25,159.25 0 0 0 1372.87,175.61Z" fill="#d2be9c"/>
<path d="M1377.65,151.58A183.75,183.75 0 0 1 1412.12,162.04L1407.43,173.35A171.50,171.50 0 0 0 1375.26,163.60Z" fill="#e9e5e7"/>
<path d="M1346.58,307.77A24.50,24.50 0 0 1 1351.18,309.16L1346.49,320.48A12.25,12.25 0 0 0 1344.19,319.79Z" fill="#e9e6e9"/>
<path d="M1348.97,295.76A36.75,36.75 0 0 1 1355.86,297.85L1351.18,309.16A24.50,24.50 0 0 0 1346.58,307.77Z" fill="#e7e2e2"/>
<path d="M1353.75,271.73A61.25,61.25 0 0 1 1365.24,275.21L1360.55,286.53A49.00,49.00 0 0 0 1351.36,283.74Z" fill="#e9e6e9"/>
<path d="M1341.80,331.80L1344.19,319.79A12.25,12.25 0 0 1 1346.49,320.48Z" fill="#ebe8ed"/>
<path d="M1351.18,309.16A24.50,24.50 0 0 1 1355.41,311.43L1348.61,321.61A12.25,12.25 0 0 0 1346.49,320.48Z" fill="#e9e5e7"/>
<path d="M1360.55,286.53A49.00,49.00 0 0 1 1369.02,291.06L1362.22,301.24A36.75,36.75 0 0 0 1355.86,297.85Z" fill="#dbcab5"/>
<path d="M1369.93,263.89A73.50,73.50 0 0 1 1382.63,270.69L1375.83,280.87A61.25,61.25 0 0 0 1365.24,275.21Z" fill="#e5ddda"/>
<path d="M1374.62,252.58A85.75,85.75 0 0 1 1389.44,260.50L1382.63,270.69A73.50,73.50 0 0 0 1369.93,263.89Z" fill="#dfd1c4"/>
<path d="M1383.99,229.94A110.25,110.25 0 0 1 1403.05,240.13L1396.25,250.32A98.00,98.00 0 0 0 1379.30,241.26Z" fill="#bcb68a"/>
<path d="M1388.68,218.62A122.50,122.50 0 0 1 1409.86,229.94L1403.05,240.13A110.25,110.25 0 0 0 1383.99,229.94Z" fill="#ccbb95"/>
<path d="M1393.37,207.31A134.75,134.75 0 0 1 1416.66,219.76L1409.86,229.94A122.50,122.50 0 0 0 1388.68,218.62Z" fill="#ccbb95"/>
<path d="M1398.05,195.99A147.00,147.00 0 0 1 1423.47,209.57L1416.66,219.76A134.75,134.75 0 0 0 1393.37,207.31Z" fill="#9eab80"/>
<path d="M1402.74,184.67A159.25,159.25 0 0 1 1430.27,199.39L1423.47,209.57A147.00,147.00 0 0 0 1398.05,195.99Z" fill="#b3b286"/>
<path d="M1407.43,173.35A171.50,171.50 0 0 1 1437.08,189.20L1430.27,199.39A159.25,159.25 0 0 0 1402.74,184.67Z" fill="#e2d8d3"/>
<path d="M1412.12,162.04A183.75,183.75 0 0 1 1443.89,179.02L1437.08,189.20A171.50,171.50 0 0 0 1407.43,173.35Z" fill="#e9e5e7"/>
<path d="M1355.86,297.85A36.75,36.75 0 0 1 1362.22,301.24L1355.41,311.43A24.50,24.50 0 0 0 1351.18,309.16Z" fill="#e9e6e9"/>
<path d="M1365.24,275.21A61.25,61.25 0 0 1 1375.83,280.87L1369.02,291.06A49.00,49.00 0 0 0 1360.55,286.53Z" fill="#e7e2e2"/>
<path d="M1341.80,331.80L1346.49,320.48A12.25,12.25 0 0 1 1348.61,321.61Z" fill="#ebe8ed"/>
<path d="M1362.22,301.24A36.75,36.75 0 0 1 1367.79,305.81L1359.12,314.48A24.50,24.50 0 0 0 1355.41,311.43Z" fill="#e7e2e2"/>
<path d="M1369.02,291.06A49.00,49.00 0 0 1 1376.45,297.15L1367.79,305.81A36.75,36.75 0 0 0 1362.22,301.24Z" fill="#e5ddda"/>
<path d="M1396.25,250.32A98.00,98.00 0 0 1 1411.10,262.50L1402.43,271.17A85.75,85.75 0 0 0 1389.44,260.50Z" fill="#e5ddda"/>
<path d="M1403.05,240.13A110.25,110.25 0 0 1 1419.76,253.84L1411.10,262.50A98.00,98.00 0 0 0 1396.25,250.32Z" fill="#cbbb94"/>
<path d="M1409.86,229.94A122.50,122.50 0 0 1 1428.42,245.18L1419.76,253.84A110.25,110.25 0 0 0 1403.05,240.13Z" fill="#d2be9c"/>
<path d="M1416.66,219.76A134.75,134.75 0 0 1 1437.08,236.52L1428.42,245.18A122.50,122.50 0 0 0 1409.86,229.94Z" fill="#e2d8d3"/>
<path d="M1423.47,209.57A147.00,147.00 0 0 1 1445.74,227.86L1437.08,236.52A134.75,134.75 0 0 0 1416.66,219.76Z" fill="#dfd1c4"/>
<path d="M1430.27,199.39A159.25,159.25 0 0 1 1454.41,219.19L1445.74,227.86A147.00,147.00 0 0 0 1423.47,209.57Z" fill="#e7e2e2"/>
<path d="M1355.41,311.43A24.50,24.50 0 0 1 1359.12,314.48L1350.46,323.14A12.25,12.25 0 0 0 1348.61,321.61Z" fill="#e9e6e9"/>
<path d="M1375.83,280.87A61.25,61.25 0 0 1 1385.11,288.49L1376.45,297.15A49.00,49.00 0 0 0 1369.02,291.06Z" fill="#e9e6e9"/>
<path d="M1341.80,331.80L1348.61,321.61A12.25,12.25 0 0 1 1350.46,323.14Z" fill="#ebe8ed"/>
<path d="M1376.45,297.15A49.00,49.00 0 0 1 1382.54,304.58L1372.36,311.38A36.75,36.75 0 0 0 1367.79,305.81Z" fill="#e5ddda"/>
<path d="M1402.43,271.17A85.75,85.75 0 0 1 1413.10,284.16L1402.91,290.97A73.50,73.50 0 0 0 1393.77,279.83Z" fill="#e7e2e2"/>
<path d="M1411.10,262.50A98.00,98.00 0 0 1 1423.28,277.35L1413.10,284.16A85.75,85.75 0 0 0 1402.43,271.17Z" fill="#dbcab5"/>
<path d="M1419.76,253.84A110.25,110.25 0 0 1 1433.47,270.55L1423.28,277.35A98.00,98.00 0 0 0 1411.10,262.50Z" fill="#e5ddda"/>
<path d="M1428.42,245.18A122.50,122.50 0 0 1 1443.66,263.74L1433.47,270.55A110.25,110.25 0 0 0 1419.76,253.84Z" fill="#e5ddda"/>
<path d="M1437.08,236.52A134.75,134.75 0 0 1 1453.84,256.94L1443.66,263.74A122.50,122.50 0 0 0 1428.42,245.18Z" fill="#e2d8d3"/>
<path d="M1359.12,314.48A24.50,24.50 0 0 1 1362.17,318.19L1351.99,324.99A12.25,12.25 0 0 0 1350.46,323.14Z" fill="#e9e6e9"/>
<path d="M1367.79,305.81A36.75,36.75 0 0 1 1372.36,311.38L1362.17,318.19A24.50,24.50 0 0 0 1359.12,314.48Z" fill="#e7e2e2"/>
<path d="M1385.11,288.49A61.25,61.25 0 0 1 1392.73,297.77L1382.54,304.58A49.00,49.00 0 0 0 1376.45,297.15Z" fill="#e9e6e9"/>
<path d="M1341.80,331.80L1350.46,323.14A12.25,12.25 0 0 1 1351.99,324.99Z" fill="#ebe8ed"/>
<path d="M1392.73,297.77A61.25,61.25 0 0 1 1398.39,308.36L1387.07,313.05A49.00,49.00 0 0 0 1382.54,304.58Z" fill="#e7e2e2"/>
<path d="M1413.10,284.16A85.75,85.75 0 0 1 1421.02,298.98L1409.71,303.67A73.50,73.50 0 0 0 1402.91,290.97Z" fill="#e9e5e7"/>
<path d="M1362.17,318.19A24.50,24.50 0 0 1 1364.44,322.42L1353.12,327.11A12.25,12.25 0 0 0 1351.99,324.99Z" fill="#e7e2e2"/>
<path d="M1372.36,311.38A36.75,36.75 0 0 1 1375.75,317.74L1364.44,322.42A24.50,24.50 0 0 0 1362.17,318.19Z" fill="#e9e6e9"/>
<path d="M1382.54,304.58A49.00,49.00 0 0 1 1387.07,313.05L1375.75,317.74A36.75,36.75 0 0 0 1372.36,311.38Z" fill="#e9e6e9"/>
<path d="M1341.80,331.80L1351.99,324.99A12.25,12.25 0 0 1 1353.12,327.11Z" fill="#ebe8ed"/>
<path d="M1387.07,313.05A49.00,49.00 0 0 1 1389.86,322.24L1377.84,324.63A36.75,36.75 0 0 0 1375.75,317.74Z" fill="#e7e2e2"/>
<path d="M1432.34,294.30A98.00,98.00 0 0 1 1437.92,312.68L1425.90,315.07A85.75,85.75 0 0 0 1421.02,298.98Z" fill="#e7e2e2"/>
<path d="M1364.44,322.42A24.50,24.50 0 0 1 1365.83,327.02L1353.81,329.41A12.25,12.25 0 0 0 1353.12,327.11Z" fill="#e9e6e9"/>
<path d="M1375.75,317.74A36.75,36.75 0 0 1 1377.84,324.63L1365.83,327.02A24.50,24.50 0 0 0 1364.44,322.42Z" fill="#e9e6e9"/>
<path d="M1398.39,308.36A61.25,61.25 0 0 1 1401.87,319.85L1389.86,322.24A49.00,49.00 0 0 0 1387.07,313.05Z" fill="#e9e6e9"/>
<path d="M1341.80,331.80L1353.12,327.11A12.25,12.25 0 0 1 1353.81,329.41Z" fill="#ebe8ed"/>
<path d="M1401.87,319.85A61.25,61.25 0 0 1 1403.05,331.80L1390.80,331.80A49.00,49.00 0 0 0 1389.86,322.24Z" fill="#e9e5e7"/>
<path d="M1365.83,327.02A24.50,24.50 0 0 1 1366.30,331.80L1354.05,331.80A12.25,12.25 0 0 0 1353.81,329.41Z" fill="#e9e6e9"/>
<path d="M1377.84,324.63A36.75,36.75 0 0 1 1378.55,331.80L1366.30,331.80A24.50,24.50 0 0 0 1365.83,327.02Z" fill="#e7e2e2"/>
<path d="M1389.86,322.24A49.00,49.00 0 0 1 1390.80,331.80L1378.55,331.80A36.75,36.75 0 0 0 1377.84,324.63Z" fill="#e9e6e9"/>
<path d="M1341.80,331.80L1353.81,329.41A12.25,12.25 0 0 1 1354.05,331.80Z" fill="#ebe8ed"/>
<path d="M1390.80,331.80A49.00,49.00 0 0 1 1389.86,341.36L1377.84,338.97A36.75,36.75 0 0 0 1378.55,331.80Z" fill="#e7e2e2"/>
<path d="M1366.30,331.80A24.50,24.50 0 0 1 1365.83,336.58L1353.81,334.19A12.25,12.25 0 0 0 1354.05,331.80Z" fill="#e7e2e2"/>
<path d="M1378.55,331.80A36.75,36.75 0 0 1 1377.84,338.97L1365.83,336.58A24.50,24.50 0 0 0 1366.30,331.80Z" fill="#e9e6e9"/>
<path d="M1403.05,331.80A61.25,61.25 0 0 1 1401.87,343.75L1389.86,341.36A49.00,49.00 0 0 0 1390.80,331.80Z" fill="#e7e2e2"/>
<path d="M1341.80,331.80L1354.05,331.80A12.25,12.25 0 0 1 1353.81,334.19Z" fill="#ebe8ed"/>
<path d="M1413.89,346.14A73.50,73.50 0 0 1 1409.71,359.93L1398.39,355.24A61.25,61.25 0 0 0 1401.87,343.75Z" fill="#e7e2e2"/>
<path d="M1365.83,336.58A24.50,24.50 0 0 1 1364.44,341.18L1353.12,336.49A12.25,12.25 0 0 0 1353.81,334.19Z" fill="#e9e6e9"/>
<path d="M1377.84,338.97A36.75,36.75 0 0 1 1375.75,345.86L1364.44,341.18A24.50,24.50 0 0 0 1365.83,336.58Z" fill="#e9e6e9"/>
<path d="M1389.86,341.36A49.00,49.00 0 0 1 1387.07,350.55L1375.75,345.86A36.75,36.75 0 0 0 1377.84,338.97Z" fill="#e7e2e2"/>
<path d="M1401.87,343.75A61.25,61.25 0 0 1 1398.39,355.24L1387.07,350.55A49.00,49.00 0 0 0 1389.86,341.36Z" fill="#e9e6e9"/>
<path d="M1341.80,331.80L1353.81,334.19A12.25,12.25 0 0 1 1353.12,336.49Z" fill="#ebe8ed"/>
<path d="M1387.07,350.55A49.00,49.00 0 0 1 1382.54,359.02L1372.36,352.22A36.75,36.75 0 0 0 1375.75,345.86Z" fill="#e5ddda"/>
<path d="M1398.39,355.24A61.25,61.25 0 0 1 1392.73,365.83L1382.54,359.02A49.00,49.00 0 0 0 1387.07,350.55Z" fill="#e7e2e2"/>
<path d="M1364.44,341.18A24.50,24.50 0 0 1 1362.17,345.41L1351.99,338.61A12.25,12.25 0 0 0 1353.12,336.49Z" fill="#e9e6e9"/>
<path d="M1375.75,345.86A36.75,36.75 0 0 1 1372.36,352.22L1362.17,345.41A24.50,24.50 0 0 0 1364.44,341.18Z" fill="#e7e2e2"/>
<path d="M1341.80,331.80L1353.12,336.49A12.25,12.25 0 0 1 1351.99,338.61Z" fill="#ebe8ed"/>
<path d="M1372.36,352.22A36.75,36.75 0 0 1 1367.79,357.79L1359.12,349.12A24.50,24.50 0 0 0 1362.17,345.41Z" fill="#e5ddda"/>
<path d="M1402.91,372.63A73.50,73.50 0 0 1 1393.77,383.77L1385.11,375.11A61.25,61.25 0 0 0 1392.73,365.83Z" fill="#e9e5e7"/>
<path d="M1362.17,345.41A24.50,24.50 0 0 1 1359.12,349.12L1350.46,340.46A12.25,12.25 0 0 0 1351.99,338.61Z" fill="#e7e2e2"/>
<path d="M1382.54,359.02A49.00,49.00 0 0 1 1376.45,366.45L1367.79,357.79A36.75,36.75 0 0 0 1372.36,352.22Z" fill="#e9e6e9"/>
<path d="M1392.73,365.83A61.25,61.25 0 0 1 1385.11,375.11L1376.45,366.45A49.00,49.00 0 0 0 1382.54,359.02Z" fill="#e7e2e2"/>
<path d="M1341.80,331.80L1351.99,338.61A12.25,12.25 0 0 1 1350.46,340.46Z" fill="#ebe8ed"/>
<path d="M1376.45,366.45A49.00,49.00 0 0 1 1369.02,372.54L1362.22,362.36A36.75,36.75 0 0 0 1367.79,357.79Z" fill="#e5ddda"/>
<path d="M1385.11,375.11A61.25,61.25 0 0 1 1375.83,382.73L1369.02,372.54A49.00,49.00 0 0 0 1376.45,366.45Z" fill="#e5ddda"/>
<path d="M1393.77,383.77A73.50,73.50 0 0 1 1382.63,392.91L1375.83,382.73A61.25,61.25 0 0 0 1385.11,375.11Z" fill="#e9e5e7"/>
<path d="M1359.12,349.12A24.50,24.50 0 0 1 1355.41,352.17L1348.61,341.99A12.25,12.25 0 0 0 1350.46,340.46Z" fill="#e9e6e9"/>
<path d="M1367.79,357.79A36.75,36.75 0 0 1 1362.22,362.36L1355.41,352.17A24.50,24.50 0 0 0 1359.12,349.12Z" fill="#e9e6e9"/>
<path d="M1341.80,331.80L1350.46,340.46A12.25,12.25 0 0 1 1348.61,341.99Z" fill="#ebe8ed"/>
<path d="M1362.22,362.36A36.75,36.75 0 0 1 1355.86,365.75L1351.18,354.44A24.50,24.50 0 0 0 1355.41,352.17Z" fill="#dbcab5"/>
<path d="M1355.41,352.17A24.50,24.50 0 0 1 1351.18,354.44L1346.49,343.12A12.25,12.25 0 0 0 1348.61,341.99Z" fill="#e9e6e9"/>
<path d="M1369.02,372.54A49.00,49.00 0 0 1 1360.55,377.07L1355.86,365.75A36.75,36.75 0 0 0 1362.22,362.36Z" fill="#e9e6e9"/>
<path d="M1375.83,382.73A61.25,61.25 0 0 1 1365.24,388.39L1360.55,377.07A49.00,49.00 0 0 0 1369.02,372.54Z" fill="#e9e6e9"/>
<path d="M1341.80,331.80L1348.61,341.99A12.25,12.25 0 0 1 1346.49,343.12Z" fill="#ebe8ed"/>
<path d="M1365.24,388.39A61.25,61.25 0 0 1 1353.75,391.87L1351.36,379.86A49.00,49.00 0 0 0 1360.55,377.07Z" fill="#ddcebc"/>
<path d="M1374.62,411.02A85.75,85.75 0 0 1 1358.53,415.90L1356.14,403.89A73.50,73.50 0 0 0 1369.93,399.71Z" fill="#e5ddda"/>
<path d="M1379.30,422.34A98.00,98.00 0 0 1 1360.92,427.92L1358.53,415.90A85.75,85.75 0 0 0 1374.62,411.02Z" fill="#e7e2e2"/>
<path d="M1383.99,433.66A110.25,110.25 0 0 1 1363.31,439.93L1360.92,427.92A98.00,98.00 0 0 0 1379.30,422.34Z" fill="#e9e5e7"/>
<path d="M1351.18,354.44A24.50,24.50 0 0 1 1346.58,355.83L1344.19,343.81A12.25,12.25 0 0 0 1346.49,343.12Z" fill="#e7e2e2"/>
<path d="M1355.86,365.75A36.75,36.75 0 0 1 1348.97,367.84L1346.58,355.83A24.50,24.50 0 0 0 1351.18,354.44Z" fill="#e9e6e9"/>
<path d="M1360.55,377.07A49.00,49.00 0 0 1 1351.36,379.86L1348.97,367.84A36.75,36.75 0 0 0 1355.86,365.75Z" fill="#e9e6e9"/>
<path d="M1341.80,331.80L1346.49,343.12A12.25,12.25 0 0 1 1344.19,343.81Z" fill="#ebe8ed"/>
<path d="M1348.97,367.84A36.75,36.75 0 0 1 1341.80,368.55L1341.80,356.30A24.50,24.50 0 0 0 1346.58,355.83Z" fill="#e5ddda"/>
<path d="M1351.36,379.86A49.00,49.00 0 0 1 1341.80,380.80L1341.80,368.55A36.75,36.75 0 0 0 1348.97,367.84Z" fill="#e7e2e2"/>
<path d="M1356.14,403.89A73.50,73.50 0 0 1 1341.80,405.30L1341.80,393.05A61.25,61.25 0 0 0 1353.75,391.87Z" fill="#e6dfde"/>
<path d="M1372.87,487.99A159.25,159.25 0 0 1 1341.80,491.05L1341.80,478.80A147.00,147.00 0 0 0 1370.48,475.98Z" fill="#e9e5e7"/>
<path d="M1346.58,355.83A24.50,24.50 0 0 1 1341.80,356.30L1341.80,344.05A12.25,12.25 0 0 0 1344.19,343.81Z" fill="#e9e6e9"/>
<path d="M1353.75,391.87A61.25,61.25 0 0 1 1341.80,393.05L1341.80,380.80A49.00,49.00 0 0 0 1351.36,379.86Z" fill="#e9e6e9"/>
<path d="M1341.80,331.80L1344.19,343.81A12.25,12.25 0 0 1 1341.80,344.05Z" fill="#ebe8ed"/>
<path d="M1341.80,405.30A73.50,73.50 0 0 1 1327.46,403.89L1329.85,391.87A61.25,61.25 0 0 0 1341.80,393.05Z" fill="#e5ddda"/>
<path d="M1341.80,417.55A85.75,85.75 0 0 1 1325.07,415.90L1327.46,403.89A73.50,73.50 0 0 0 1341.80,405.30Z" fill="#e5ddda"/>
<path d="M1341.80,429.80A98.00,98.00 0 0 1 1322.68,427.92L1325.07,415.90A85.75,85.75 0 0 0 1341.80,417.55Z" fill="#dfd1c4"/>
<path d="M1341.80,442.05A110.25,110.25 0 0 1 1320.29,439.93L1322.68,427.92A98.00,98.00 0 0 0 1341.80,429.80Z" fill="#e5ddda"/>
<path d="M1341.80,454.30A122.50,122.50 0 0 1 1317.90,451.95L1320.29,439.93A110.25,110.25 0 0 0 1341.80,442.05Z" fill="#e6dfde"/>
<path d="M1341.80,466.55A134.75,134.75 0 0 1 1315.51,463.96L1317.90,451.95A122.50,122.50 0 0 0 1341.80,454.30Z" fill="#e7e2e2"/>
<path d="M1341.80,491.05A159.25,159.25 0 0 1 1310.73,487.99L1313.12,475.98A147.00,147.00 0 0 0 1341.80,478.80Z" fill="#e9e5e7"/>
<path d="M1341.80,356.30A24.50,24.50 0 0 1 1337.02,355.83L1339.41,343.81A12.25,12.25 0 0 0 1341.80,344.05Z" fill="#e9e6e9"/>
<path d="M1341.80,368.55A36.75,36.75 0 0 1 1334.63,367.84L1337.02,355.83A24.50,24.50 0 0 0 1341.80,356.30Z" fill="#e7e2e2"/>
<path d="M1341.80,380.80A49.00,49.00 0 0 1 1332.24,379.86L1334.63,367.84A36.75,36.75 0 0 0 1341.80,368.55Z" fill="#e9e6e9"/>
<path d="M1341.80,393.05A61.25,61.25 0 0 1 1329.85,391.87L1332.24,379.86A49.00,49.00 0 0 0 1341.80,380.80Z" fill="#e9e6e9"/>
<path d="M1341.80,331.80L1341.80,344.05A12.25,12.25 0 0 1 1339.41,343.81Z" fill="#ebe8ed"/>
<path d="M1334.63,367.84A36.75,36.75 0 0 1 1327.74,365.75L1332.42,354.44A24.50,24.50 0 0 0 1337.02,355.83Z" fill="#e5ddda"/>
<path d="M1327.46,403.89A73.50,73.50 0 0 1 1313.67,399.71L1318.36,388.39A61.25,61.25 0 0 0 1329.85,391.87Z" fill="#e2d8d3"/>
<path d="M1325.07,415.90A85.75,85.75 0 0 1 1308.98,411.02L1313.67,399.71A73.50,73.50 0 0 0 1327.46,403.89Z" fill="#e6dfde"/>
<path d="M1322.68,427.92A98.00,98.00 0 0 1 1304.30,422.34L1308.98,411.02A85.75,85.75 0 0 0 1325.07,415.90Z" fill="#e5ddda"/>
<path d="M1320.29,439.93A110.25,110.25 0 0 1 1299.61,433.66L1304.30,422.34A98.00,98.00 0 0 0 1322.68,427.92Z" fill="#dfd1c4"/>
<path d="M1317.90,451.95A122.50,122.50 0 0 1 1294.92,444.98L1299.61,433.66A110.25,110.25 0 0 0 1320.29,439.93Z" fill="#dfd1c4"/>
<path d="M1315.51,463.96A134.75,134.75 0 0 1 1290.23,456.29L1294.92,444.98A122.50,122.50 0 0 0 1317.90,451.95Z" fill="#dfd1c4"/>
<path d="M1313.12,475.98A147.00,147.00 0 0 1 1285.55,467.61L1290.23,456.29A134.75,134.75 0 0 0 1315.51,463.96Z" fill="#e2d8d3"/>
<path d="M1337.02,355.83A24.50,24.50 0 0 1 1332.42,354.44L1337.11,343.12A12.25,12.25 0 0 0 1339.41,343.81Z" fill="#e7e2e2"/>
<path d="M1332.24,379.86A49.00,49.00 0 0 1 1323.05,377.07L1327.74,365.75A36.75,36.75 0 0 0 1334.63,367.84Z" fill="#e9e6e9"/>
<path d="M1329.85,391.87A61.25,61.25 0 0 1 1318.36,388.39L1323.05,377.07A49.00,49.00 0 0 0 1332.24,379.86Z" fill="#e7e2e2"/>
<path d="M1341.80,331.80L1339.41,343.81A12.25,12.25 0 0 1 1337.11,343.12Z" fill="#ebe8ed"/>
<path d="M1327.74,365.75A36.75,36.75 0 0 1 1321.38,362.36L1328.19,352.17A24.50,24.50 0 0 0 1332.42,354.44Z" fill="#e7e2e2"/>
<path d="M1323.05,377.07A49.00,49.00 0 0 1 1314.58,372.54L1321.38,362.36A36.75,36.75 0 0 0 1327.74,365.75Z" fill="#dbcab5"/>
<path d="M1313.67,399.71A73.50,73.50 0 0 1 1300.97,392.91L1307.77,382.73A61.25,61.25 0 0 0 1318.36,388.39Z" fill="#e7e2e2"/>
<path d="M1308.98,411.02A85.75,85.75 0 0 1 1294.16,403.10L1300.97,392.91A73.50,73.50 0 0 0 1313.67,399.71Z" fill="#e5ddda"/>
<path d="M1304.30,422.34A98.00,98.00 0 0 1 1287.35,413.28L1294.16,403.10A85.75,85.75 0 0 0 1308.98,411.02Z" fill="#cbbb94"/>
<path d="M1299.61,433.66A110.25,110.25 0 0 1 1280.55,423.47L1287.35,413.28A98.00,98.00 0 0 0 1304.30,422.34Z" fill="#e2d8d3"/>
<path d="M1294.92,444.98A122.50,122.50 0 0 1 1273.74,433.66L1280.55,423.47A110.25,110.25 0 0 0 1299.61,433.66Z" fill="#e6dfde"/>
<path d="M1290.23,456.29A134.75,134.75 0 0 1 1266.94,443.84L1273.74,433.66A122.50,122.50 0 0 0 1294.92,444.98Z" fill="#dfd1c4"/>
<path d="M1285.55,467.61A147.00,147.00 0 0 1 1260.13,454.03L1266.94,443.84A134.75,134.75 0 0 0 1290.23,456.29Z" fill="#e5ddda"/>
<path d="M1280.86,478.93A159.25,159.25 0 0 1 1253.33,464.21L1260.13,454.03A147.00,147.00 0 0 0 1285.55,467.61Z" fill="#e7e2e2"/>
<path d="M1332.42,354.44A24.50,24.50 0 0 1 1328.19,352.17L1334.99,341.99A12.25,12.25 0 0 0 1337.11,343.12Z" fill="#e9e6e9"/>
<path d="M1318.36,388.39A61.25,61.25 0 0 1 1307.77,382.73L1314.58,372.54A49.00,49.00 0 0 0 1323.05,377.07Z" fill="#e9e6e9"/>
<path d="M1341.80,331.80L1337.11,343.12A12.25,12.25 0 0 1 1334.99,341.99Z" fill="#ebe8ed"/>
<path d="M1294.16,403.10A85.75,85.75 0 0 1 1281.17,392.43L1289.83,383.77A73.50,73.50 0 0 0 1300.97,392.91Z" fill="#c5b98e"/>
<path d="M1287.35,413.28A98.00,98.00 0 0 1 1272.50,401.10L1281.17,392.43A85.75,85.75 0 0 0 1294.16,403.10Z" fill="#dfd1c4"/>
<path d="M1280.55,423.47A110.25,110.25 0 0 1 1263.84,409.76L1272.50,401.10A98.00,98.00 0 0 0 1287.35,413.28Z" fill="#e6dfde"/>
<path d="M1273.74,433.66A122.50,122.50 0 0 1 1255.18,418.42L1263.84,409.76A110.25,110.25 0 0 0 1280.55,423.47Z" fill="#bcb68a"/>
<path d="M1266.94,443.84A134.75,134.75 0 0 1 1246.52,427.08L1255.18,418.42A122.50,122.50 0 0 0 1273.74,433.66Z" fill="#d7c3a6"/>
<path d="M1260.13,454.03A147.00,147.00 0 0 1 1237.86,435.74L1246.52,427.08A134.75,134.75 0 0 0 1266.94,443.84Z" fill="#e7e2e2"/>
<path d="M1328.19,352.17A24.50,24.50 0 0 1 1324.48,349.12L1333.14,340.46A12.25,12.25 0 0 0 1334.99,341.99Z" fill="#e9e6e9"/>
<path d="M1321.38,362.36A36.75,36.75 0 0 1 1315.81,357.79L1324.48,349.12A24.50,24.50 0 0 0 1328.19,352.17Z" fill="#e7e2e2"/>
<path d="M1314.58,372.54A49.00,49.00 0 0 1 1307.15,366.45L1315.81,357.79A36.75,36.75 0 0 0 1321.38,362.36Z" fill="#e9e6e9"/>
<path d="M1307.77,382.73A61.25,61.25 0 0 1 1298.49,375.11L1307.15,366.45A49.00,49.00 0 0 0 1314.58,372.54Z" fill="#e9e6e9"/>
<path d="M1341.80,331.80L1334.99,341.99A12.25,12.25 0 0 1 1333.14,340.46Z" fill="#ebe8ed"/>
<path d="M1281.17,392.43A85.75,85.75 0 0 1 1270.50,379.44L1280.69,372.63A73.50,73.50 0 0 0 1289.83,383.77Z" fill="#dbcab5"/>
<path d="M1272.50,401.10A98.00,98.00 0 0 1 1260.32,386.25L1270.50,379.44A85.75,85.75 0 0 0 1281.17,392.43Z" fill="#dfd1c4"/>
<path d="M1255.18,418.42A122.50,122.50 0 0 1 1239.94,399.86L1250.13,393.05A110.25,110.25 0 0 0 1263.84,409.76Z" fill="#e2d8d3"/>
<path d="M1246.52,427.08A134.75,134.75 0 0 1 1229.76,406.66L1239.94,399.86A122.50,122.50 0 0 0 1255.18,418.42Z" fill="#e5ddda"/>
<path d="M1324.48,349.12A24.50,24.50 0 0 1 1321.43,345.41L1331.61,338.61A12.25,12.25 0 0 0 1333.14,340.46Z" fill="#e7e2e2"/>
<path d="M1315.81,357.79A36.75,36.75 0 0 1 1311.24,352.22L1321.43,345.41A24.50,24.50 0 0 0 1324.48,349.12Z" fill="#e9e6e9"/>
<path d="M1307.15,366.45A49.00,49.00 0 0 1 1301.06,359.02L1311.24,352.22A36.75,36.75 0 0 0 1315.81,357.79Z" fill="#e9e6e9"/>
<path d="M1298.49,375.11A61.25,61.25 0 0 1 1290.87,365.83L1301.06,359.02A49.00,49.00 0 0 0 1307.15,366.45Z" fill="#e7e2e2"/>
<path d="M1341.80,331.80L1333.14,340.46A12.25,12.25 0 0 1 1331.61,338.61Z" fill="#ebe8ed"/>
<path d="M1321.43,345.41A24.50,24.50 0 0 1 1319.16,341.18L1330.48,336.49A12.25,12.25 0 0 0 1331.61,338.61Z" fill="#e7e2e2"/>
<path d="M1301.06,359.02A49.00,49.00 0 0 1 1296.53,350.55L1307.85,345.86A36.75,36.75 0 0 0 1311.24,352.22Z" fill="#e2d8d3"/>
<path d="M1290.87,365.83A61.25,61.25 0 0 1 1285.21,355.24L1296.53,350.55A49.00,49.00 0 0 0 1301.06,359.02Z" fill="#dbcab5"/>
<path d="M1260.32,386.25A98.00,98.00 0 0 1 1251.26,369.30L1262.58,364.62A85.75,85.75 0 0 0 1270.50,379.44Z" fill="#e2d8d3"/>
<path d="M1250.13,393.05A110.25,110.25 0 0 1 1239.94,373.99L1251.26,369.30A98.00,98.00 0 0 0 1260.32,386.25Z" fill="#e5ddda"/>
<path d="M1311.24,352.22A36.75,36.75 0 0 1 1307.85,345.86L1319.16,341.18A24.50,24.50 0 0 0 1321.43,345.41Z" fill="#e9e6e9"/>
<path d="M1341.80,331.80L1331.61,338.61A12.25,12.25 0 0 1 1330.48,336.49Z" fill="#ebe8ed"/>
<path d="M1273.89,359.93A73.50,73.50 0 0 1 1269.71,346.14L1281.73,343.75A61.25,61.25 0 0 0 1285.21,355.24Z" fill="#dfd1c4"/>
<path d="M1262.58,364.62A85.75,85.75 0 0 1 1257.70,348.53L1269.71,346.14A73.50,73.50 0 0 0 1273.89,359.93Z" fill="#e5ddda"/>
<path d="M1251.26,369.30A98.00,98.00 0 0 1 1245.68,350.92L1257.70,348.53A85.75,85.75 0 0 0 1262.58,364.62Z" fill="#e7e2e2"/>
<path d="M1319.16,341.18A24.50,24.50 0 0 1 1317.77,336.58L1329.79,334.19A12.25,12.25 0 0 0 1330.48,336.49Z" fill="#e9e6e9"/>
<path d="M1307.85,345.86A36.75,36.75 0 0 1 1305.76,338.97L1317.77,336.58A24.50,24.50 0 0 0 1319.16,341.18Z" fill="#e7e2e2"/>
<path d="M1296.53,350.55A49.00,49.00 0 0 1 1293.74,341.36L1305.76,338.97A36.75,36.75 0 0 0 1307.85,345.86Z" fill="#e9e6e9"/>
<path d="M1285.21,355.24A61.25,61.25 0 0 1 1281.73,343.75L1293.74,341.36A49.00,49.00 0 0 0 1296.53,350.55Z" fill="#e9e6e9"/>
<path d="M1341.80,331.80L1330.48,336.49A12.25,12.25 0 0 1 1329.79,334.19Z" fill="#ebe8ed"/>
<path d="M1305.76,338.97A36.75,36.75 0 0 1 1305.05,331.80L1317.30,331.80A24.50,24.50 0 0 0 1317.77,336.58Z" fill="#e2d8d3"/>
<path d="M1281.73,343.75A61.25,61.25 0 0 1 1280.55,331.80L1292.80,331.80A49.00,49.00 0 0 0 1293.74,341.36Z" fill="#e7e2e2"/>
<path d="M1257.70,348.53A85.75,85.75 0 0 1 1256.05,331.80L1268.30,331.80A73.50,73.50 0 0 0 1269.71,346.14Z" fill="#e7e2e2"/>
<path d="M1317.77,336.58A24.50,24.50 0 0 1 1317.30,331.80L1329.55,331.80A12.25,12.25 0 0 0 1329.79,334.19Z" fill="#e7e2e2"/>
<path d="M1293.74,341.36A49.00,49.00 0 0 1 1292.80,331.80L1305.05,331.80A36.75,36.75 0 0 0 1305.76,338.97Z" fill="#e9e6e9"/>
<path d="M1341.80,331.80L1329.79,334.19A12.25,12.25 0 0 1 1329.55,331.80Z" fill="#ebe8ed"/>
<path d="M1268.30,331.80A73.50,73.50 0 0 1 1269.71,317.46L1281.73,319.85A61.25,61.25 0 0 0 1280.55,331.80Z" fill="#e5ddda"/>
<path d="M1317.30,331.80A24.50,24.50 0 0 1 1317.77,327.02L1329.79,329.41A12.25,12.25 0 0 0 1329.55,331.80Z" fill="#e9e6e9"/>
<path d="M1305.05,331.80A36.75,36.75 0 0 1 1305.76,324.63L1317.77,327.02A24.50,24.50 0 0 0 1317.30,331.80Z" fill="#e9e6e9"/>
<path d="M1292.80,331.80A49.00,49.00 0 0 1 1293.74,322.24L1305.76,324.63A36.75,36.75 0 0 0 1305.05,331.80Z" fill="#e7e2e2"/>
<path d="M1280.55,331.80A61.25,61.25 0 0 1 1281.73,319.85L1293.74,322.24A49.00,49.00 0 0 0 1292.80,331.80Z" fill="#e9e6e9"/>
<path d="M1341.80,331.80L1329.55,331.80A12.25,12.25 0 0 1 1329.79,329.41Z" fill="#ebe8ed"/>
<path d="M1293.74,322.24A49.00,49.00 0 0 1 1296.53,313.05L1307.85,317.74A36.75,36.75 0 0 0 1305.76,324.63Z" fill="#e5ddda"/>
<path d="M1281.73,319.85A61.25,61.25 0 0 1 1285.21,308.36L1296.53,313.05A49.00,49.00 0 0 0 1293.74,322.24Z" fill="#d7c3a6"/>
<path d="M1317.77,327.02A24.50,24.50 0 0 1 1319.16,322.42L1330.48,327.11A12.25,12.25 0 0 0 1329.79,329.41Z" fill="#e9e6e9"/>
<path d="M1305.76,324.63A36.75,36.75 0 0 1 1307.85,317.74L1319.16,322.42A24.50,24.50 0 0 0 1317.77,327.02Z" fill="#e7e2e2"/>
<path d="M1341.80,331.80L1329.79,329.41A12.25,12.25 0 0 1 1330.48,327.11Z" fill="#ebe8ed"/>
<path d="M1262.58,298.98A85.75,85.75 0 0 1 1270.50,284.16L1280.69,290.97A73.50,73.50 0 0 0 1273.89,303.67Z" fill="#e9e5e7"/>
<path d="M1319.16,322.42A24.50,24.50 0 0 1 1321.43,318.19L1331.61,324.99A12.25,12.25 0 0 0 1330.48,327.11Z" fill="#e7e2e2"/>
<path d="M1307.85,317.74A36.75,36.75 0 0 1 1311.24,311.38L1321.43,318.19A24.50,24.50 0 0 0 1319.16,322.42Z" fill="#e9e6e9"/>
<path d="M1296.53,313.05A49.00,49.00 0 0 1 1301.06,304.58L1311.24,311.38A36.75,36.75 0 0 0 1307.85,317.74Z" fill="#e9e6e9"/>
<path d="M1285.21,308.36A61.25,61.25 0 0 1 1290.87,297.77L1301.06,304.58A49.00,49.00 0 0 0 1296.53,313.05Z" fill="#e7e2e2"/>
<path d="M1341.80,331.80L1330.48,327.11A12.25,12.25 0 0 1 1331.61,324.99Z" fill="#ebe8ed"/>
<path d="M1301.06,304.58A49.00,49.00 0 0 1 1307.15,297.15L1315.81,305.81A36.75,36.75 0 0 0 1311.24,311.38Z" fill="#dbcab5"/>
<path d="M1280.69,290.97A73.50,73.50 0 0 1 1289.83,279.83L1298.49,288.49A61.25,61.25 0 0 0 1290.87,297.77Z" fill="#e9e5e7"/>
<path d="M1270.50,284.16A85.75,85.75 0 0 1 1281.17,271.17L1289.83,279.83A73.50,73.50 0 0 0 1280.69,290.97Z" fill="#e7e2e2"/>
<path d="M1321.43,318.19A24.50,24.50 0 0 1 1324.48,314.48L1333.14,323.14A12.25,12.25 0 0 0 1331.61,324.99Z" fill="#e9e6e9"/>
<path d="M1311.24,311.38A36.75,36.75 0 0 1 1315.81,305.81L1324.48,314.48A24.50,24.50 0 0 0 1321.43,318.19Z" fill="#e9e6e9"/>
<path d="M1290.87,297.77A61.25,61.25 0 0 1 1298.49,288.49L1307.15,297.15A49.00,49.00 0 0 0 1301.06,304.58Z" fill="#e9e6e9"/>
<path d="M1341.80,331.80L1331.61,324.99A12.25,12.25 0 0 1 1333.14,323.14Z" fill="#ebe8ed"/>
<path d="M1307.15,297.15A49.00,49.00 0 0 1 1314.58,291.06L1321.38,301.24A36.75,36.75 0 0 0 1315.81,305.81Z" fill="#e5ddda"/>
<path d="M1281.17,271.17A85.75,85.75 0 0 1 1294.16,260.50L1300.97,270.69A73.50,73.50 0 0 0 1289.83,279.83Z" fill="#e5ddda"/>
<path d="M1324.48,314.48A24.50,24.50 0 0 1 1328.19,311.43L1334.99,321.61A12.25,12.25 0 0 0 1333.14,323.14Z" fill="#e9e6e9"/>
<path d="M1315.81,305.81A36.75,36.75 0 0 1 1321.38,301.24L1328.19,311.43A24.50,24.50 0 0 0 1324.48,314.48Z" fill="#e7e2e2"/>
<path d="M1298.49,288.49A61.25,61.25 0 0 1 1307.77,280.87L1314.58,291.06A49.00,49.00 0 0 0 1307.15,297.15Z" fill="#e9e6e9"/>
<path d="M1341.80,331.80L1333.14,323.14A12.25,12.25 0 0 1 1334.99,321.61Z" fill="#ebe8ed"/>
<path d="M1328.19,311.43A24.50,24.50 0 0 1 1332.42,309.16L1337.11,320.48A12.25,12.25 0 0 0 1334.99,321.61Z" fill="#e7e2e2"/>
<path d="M1300.97,270.69A73.50,73.50 0 0 1 1313.67,263.89L1318.36,275.21A61.25,61.25 0 0 0 1307.77,280.87Z" fill="#e5ddda"/>
<path d="M1294.16,260.50A85.75,85.75 0 0 1 1308.98,252.58L1313.67,263.89A73.50,73.50 0 0 0 1300.97,270.69Z" fill="#e9e5e7"/>
<path d="M1287.35,250.32A98.00,98.00 0 0 1 1304.30,241.26L1308.98,252.58A85.75,85.75 0 0 0 1294.16,260.50Z" fill="#e7e2e2"/>
<path d="M1273.74,229.94A122.50,122.50 0 0 1 1294.92,218.62L1299.61,229.94A110.25,110.25 0 0 0 1280.55,240.13Z" fill="#e9e5e7"/>
<path d="M1321.38,301.24A36.75,36.75 0 0 1 1327.74,297.85L1332.42,309.16A24.50,24.50 0 0 0 1328.19,311.43Z" fill="#e9e6e9"/>
<path d="M1314.58,291.06A49.00,49.00 0 0 1 1323.05,286.53L1327.74,297.85A36.75,36.75 0 0 0 1321.38,301.24Z" fill="#ebeaef"/>
<path d="M1307.77,280.87A61.25,61.25 0 0 1 1318.36,275.21L1323.05,286.53A49.00,49.00 0 0 0 1314.58,291.06Z" fill="#e7e2e2"/>
<path d="M1341.80,331.80L1334.99,321.61A12.25,12.25 0 0 1 1337.11,320.48Z" fill="#ebe8ed"/>
<path d="M1318.36,275.21A61.25,61.25 0 0 1 1329.85,271.73L1332.24,283.74A49.00,49.00 0 0 0 1323.05,286.53Z" fill="#dbcab5"/>
<path d="M1299.61,229.94A110.25,110.25 0 0 1 1320.29,223.67L1322.68,235.68A98.00,98.00 0 0 0 1304.30,241.26Z" fill="#e9e5e7"/>
<path d="M1332.42,309.16A24.50,24.50 0 0 1 1337.02,307.77L1339.41,319.79A12.25,12.25 0 0 0 1337.11,320.48Z" fill="#e9e6e9"/>
<path d="M1327.74,297.85A36.75,36.75 0 0 1 1334.63,295.76L1337.02,307.77A24.50,24.50 0 0 0 1332.42,309.16Z" fill="#e9e6e9"/>
<path d="M1323.05,286.53A49.00,49.00 0 0 1 1332.24,283.74L1334.63,295.76A36.75,36.75 0 0 0 1327.74,297.85Z" fill="#ebeaef"/>
<path d="M1341.80,331.80L1337.11,320.48A12.25,12.25 0 0 1 1339.41,319.79Z" fill="#ebe8ed"/>
<path d="M1322.68,235.68A98.00,98.00 0 0 1 1341.80,233.80L1341.80,246.05A85.75,85.75 0 0 0 1325.07,247.70Z" fill="#e7e2e2"/>
<path d="M1317.90,211.65A122.50,122.50 0 0 1 1341.80,209.30L1341.80,221.55A110.25,110.25 0 0 0 1320.29,223.67Z" fill="#e5ddda"/>
<path d="M1313.12,187.62A147.00,147.00 0 0 1 1341.80,184.80L1341.80,197.05A134.75,134.75 0 0 0 1315.51,199.64Z" fill="#e5ddda"/>
<path d="M1308.34,163.60A171.50,171.50 0 0 1 1341.80,160.30L1341.80,172.55A159.25,159.25 0 0 0 1310.73,175.61Z" fill="#e9e5e7"/>
<path d="M1337.02,307.77A24.50,24.50 0 0 1 1341.80,307.30L1341.80,319.55A12.25,12.25 0 0 0 1339.41,319.79Z" fill="#e9e6e9"/>
<path d="M1334.63,295.76A36.75,36.75 0 0 1 1341.80,295.05L1341.80,307.30A24.50,24.50 0 0 0 1337.02,307.77Z" fill="#e7e2e2"/>
<path d="M1332.24,283.74A49.00,49.00 0 0 1 1341.80,282.80L1341.80,295.05A36.75,36.75 0 0 0 1334.63,295.76Z" fill="#e9e6e9"/>
<path d="M1329.85,271.73A61.25,61.25 0 0 1 1341.80,270.55L1341.80,282.80A49.00,49.00 0 0 0 1332.24,283.74Z" fill="#e9e6e9"/>
<path d="M1341.80,331.80L1339.41,319.79A12.25,12.25 0 0 1 1341.80,319.55Z" fill="#ebe8ed"/>
</g>
<g stroke="#b0b0b0" stroke-width="1.1"><circle cx="1341.8" cy="331.8" r="55.05" fill="none"/><circle cx="1341.8" cy="331.8" r="110.10" fill="none"/><circle cx="1341.8" cy="331.8" r="165.15" fill="none"/><circle cx="1341.8" cy="331.8" r="220.20" fill="none"/><line x1="1342.5" y1="331.8" x2="1342.5" y2="97.20"/><line x1="1341.8" y1="331.8" x2="1507.69" y2="165.91"/><line x1="1341.8" y1="332.5" x2="1576.40" y2="332.5"/><line x1="1341.8" y1="331.8" x2="1507.69" y2="497.69"/><line x1="1342.5" y1="331.8" x2="1342.5" y2="566.40"/><line x1="1341.8" y1="331.8" x2="1175.91" y2="497.69"/><line x1="1341.8" y1="332.5" x2="1107.20" y2="332.5"/><line x1="1341.8" y1="331.8" x2="1175.91" y2="165.91"/></g>
<circle cx="1341.8" cy="331.8" r="234.6" fill="none" stroke="#000" stroke-width="1.1"/>
<text transform="translate(741.69 31.41) scale(1.0783 1)" font-size="29.01">Oct 2008</text>
<text transform="translate(236.8 60.75) scale(0.9461 1)" font-size="25.35">CIOFS</text>
<text transform="translate(759.09 60.45) scale(1.0078 1)" font-size="24.93">NWGOA</text>
<text transform="translate(1250.55 60.55) scale(0.9849 1)" font-size="25.35">CIOFS-NWGOA</text>
<text transform="translate(266.81 83.9) scale(1.0691 1)" font-size="19.71">N</text>
<text transform="translate(11.5 337.7) scale(0.9588 1)" font-size="19.86">W</text>
<text transform="translate(522.11 338.0) scale(0.8591 1)" font-size="20.29">E</text>
<text transform="translate(268.09 591.8) scale(0.9173 1)" font-size="19.72">S</text>
<text transform="translate(323.65 306.51) scale(1.1241 1)" font-size="19.01">0.5</text>
<text transform="translate(375.1 285.81) scale(1.0976 1)" font-size="19.44">1.0</text>
<text transform="translate(425.8 264.7) scale(1.0821 1)" font-size="19.71">1.5</text>
<text transform="translate(476.72 244.01) scale(1.1121 1)" font-size="19.44">2.0</text>
<text transform="translate(801.01 83.9) scale(1.0691 1)" font-size="19.71">N</text>
<text transform="translate(545.7 337.7) scale(0.9588 1)" font-size="19.86">W</text>
<text transform="translate(1056.31 338.0) scale(0.8591 1)" font-size="20.29">E</text>
<text transform="translate(802.29 591.8) scale(0.9173 1)" font-size="19.72">S</text>
<text transform="translate(857.85 306.51) scale(1.1241 1)" font-size="19.01">0.5</text>
<text transform="translate(909.3 285.81) scale(1.0976 1)" font-size="19.44">1.0</text>
<text transform="translate(960.0 264.7) scale(1.0821 1)" font-size="19.71">1.5</text>
<text transform="translate(1010.92 244.01) scale(1.1121 1)" font-size="19.44">2.0</text>
<text transform="translate(1335.21 83.9) scale(1.0691 1)" font-size="19.71">N</text>
<text transform="translate(1079.9 337.7) scale(0.9588 1)" font-size="19.86">W</text>
<text transform="translate(1590.51 338.0) scale(0.8591 1)" font-size="20.29">E</text>
<text transform="translate(1336.49 591.8) scale(0.9173 1)" font-size="19.72">S</text>
<text transform="translate(1392.05 306.51) scale(1.1241 1)" font-size="19.01">0.5</text>
<text transform="translate(1443.5 285.81) scale(1.0976 1)" font-size="19.44">1.0</text>
<text transform="translate(1494.2 264.7) scale(1.0821 1)" font-size="19.71">1.5</text>
<text transform="translate(1545.12 244.01) scale(1.1121 1)" font-size="19.44">2.0</text>
<text transform="translate(399.53 680.96) scale(1.0766 1)" font-size="23.66">0</text>
<text transform="translate(488.42 680.96) scale(1.0614 1)" font-size="24.0">5</text>
<text transform="translate(570.22 680.96) scale(1.0449 1)" font-size="23.66">10</text>
<text transform="translate(659.11 680.96) scale(1.0302 1)" font-size="24.0">15</text>
<text transform="translate(748.65 680.96) scale(1.0193 1)" font-size="23.66">20</text>
<text transform="translate(837.54 680.96) scale(1.0193 1)" font-size="23.66">25</text>
<text transform="translate(926.68 680.96) scale(1.0094 1)" font-size="23.66">30</text>
<text transform="translate(1015.57 680.96) scale(1.0094 1)" font-size="23.66">35</text>
<text transform="translate(1104.82 680.96) scale(0.9949 1)" font-size="23.66">40</text>
<text transform="translate(1193.71 680.96) scale(0.9809 1)" font-size="24.0">45</text>
<text transform="translate(521.64 708.95) scale(1.0108 1)" font-size="24.93">Currents [m/s] at COI0523; number of occurrences</text>
<rect x="406.5" y="605.5" width="800.0" height="30.0" fill="url(#cb)" stroke="#000" stroke-width="1.1"/>
<g stroke="#000" stroke-width="1.1"><line x1="406.50" y1="635.5" x2="406.50" y2="657.4"/><line x1="495.50" y1="635.5" x2="495.50" y2="657.4"/><line x1="584.50" y1="635.5" x2="584.50" y2="657.4"/><line x1="673.50" y1="635.5" x2="673.50" y2="657.4"/><line x1="762.50" y1="635.5" x2="762.50" y2="657.4"/><line x1="850.50" y1="635.5" x2="850.50" y2="657.4"/><line x1="939.50" y1="635.5" x2="939.50" y2="657.4"/><line x1="1028.50" y1="635.5" x2="1028.50" y2="657.4"/><line x1="1117.50" y1="635.5" x2="1117.50" y2="657.4"/><line x1="1206.50" y1="635.5" x2="1206.50" y2="657.4"/></g>
</svg></body></html>
